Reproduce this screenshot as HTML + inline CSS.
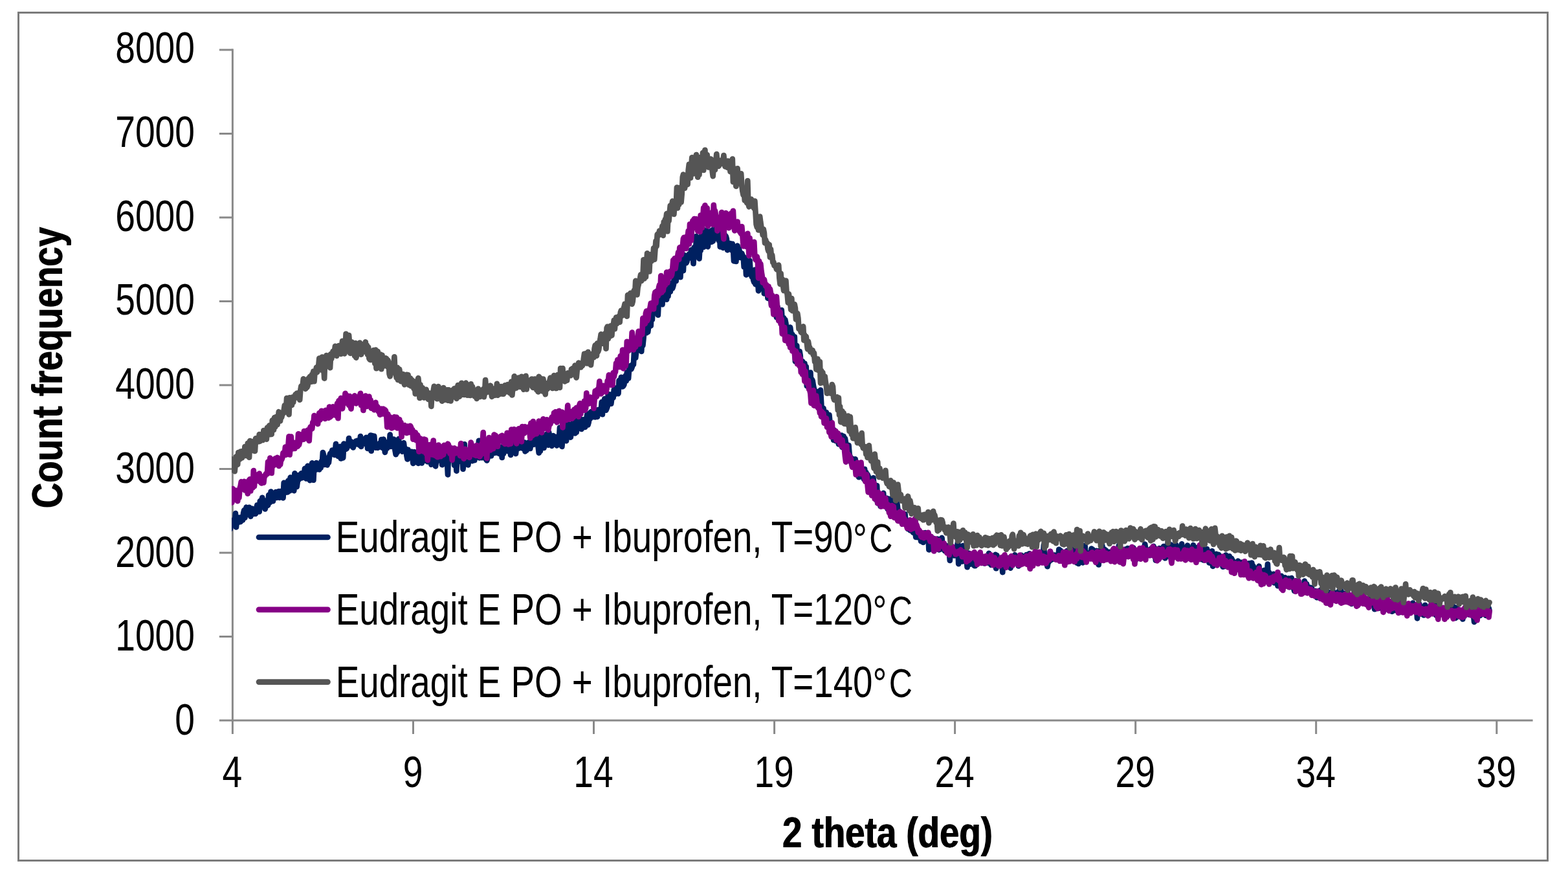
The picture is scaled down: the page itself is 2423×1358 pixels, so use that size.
<!DOCTYPE html>
<html lang="en"><head><meta charset="utf-8"><title>XRD: Eudragit E PO + Ibuprofen</title>
<style>html,body{margin:0;padding:0;background:#fff}body{width:2423px;height:1358px;overflow:hidden}svg{display:block}
text{font-family:"Liberation Sans",sans-serif;fill:#000}
.t{font-size:69.00px}.b{font-size:69.00px;font-weight:bold}
</style></head><body>
<svg width="2423" height="1358" viewBox="0 0 2423 1358" role="img" aria-label="XRD patterns of Eudragit E PO + Ibuprofen at 90, 120 and 140 °C">
<rect x="0" y="0" width="2423" height="1358" fill="#fff"/>
<rect x="28.5" y="19.5" width="2363" height="1310" fill="none" stroke="#7b7b7b" stroke-width="3"/>
<g stroke="#898989" stroke-width="3" fill="none">
<line x1="359.4" y1="75.5" x2="359.4" y2="1134.0"/>
<line x1="338.9" y1="1113.0" x2="2368.6" y2="1113.0"/>
<line x1="338.9" y1="983.5" x2="359.4" y2="983.5"/>
<line x1="338.9" y1="854.0" x2="359.4" y2="854.0"/>
<line x1="338.9" y1="724.5" x2="359.4" y2="724.5"/>
<line x1="338.9" y1="595.0" x2="359.4" y2="595.0"/>
<line x1="338.9" y1="465.5" x2="359.4" y2="465.5"/>
<line x1="338.9" y1="336.0" x2="359.4" y2="336.0"/>
<line x1="338.9" y1="206.5" x2="359.4" y2="206.5"/>
<line x1="338.9" y1="77.0" x2="359.4" y2="77.0"/>
<line x1="638.5" y1="1113.0" x2="638.5" y2="1134.0"/>
<line x1="917.5" y1="1113.0" x2="917.5" y2="1134.0"/>
<line x1="1196.6" y1="1113.0" x2="1196.6" y2="1134.0"/>
<line x1="1475.6" y1="1113.0" x2="1475.6" y2="1134.0"/>
<line x1="1754.7" y1="1113.0" x2="1754.7" y2="1134.0"/>
<line x1="2033.7" y1="1113.0" x2="2033.7" y2="1134.0"/>
<line x1="2312.8" y1="1113.0" x2="2312.8" y2="1134.0"/>
</g>
<defs><clipPath id="plot"><rect x="357.9" y="60" width="2040" height="1060"/></clipPath></defs>
<g clip-path="url(#plot)" fill="none" stroke-width="8.70" stroke-linejoin="round" stroke-linecap="round">
<path stroke="#002060" d="M353.8 810.3 L354.9 818.2 L356.1 816.7 L357.2 805.2 L358.3 805.9 L359.4 803.9 L360.5 810.3 L361.6 805.8 L362.7 810.3 L363.9 793.2 L365.0 814.4 L366.1 803.2 L367.2 807.6 L368.3 801.8 L369.4 799.7 L370.6 804.5 L371.7 806.2 L372.8 799.0 L373.9 798.7 L375.0 803.5 L376.1 792.9 L377.3 788.2 L378.4 799.8 L379.5 792.3 L380.6 783.7 L381.7 790.1 L382.8 791.7 L384.0 786.4 L385.1 783.8 L386.2 793.0 L387.3 797.8 L388.4 789.8 L389.5 785.8 L390.7 792.4 L391.8 793.9 L392.9 786.5 L394.0 791.3 L395.1 793.8 L396.2 784.9 L397.4 780.3 L398.5 787.1 L399.6 785.7 L400.7 790.5 L401.8 774.2 L402.9 777.5 L404.0 775.6 L405.2 768.9 L406.3 780.4 L407.4 782.3 L408.5 773.2 L409.6 786.4 L410.7 781.9 L411.9 779.9 L413.0 777.7 L414.1 780.6 L415.2 764.8 L416.3 776.8 L417.4 776.0 L418.6 759.6 L419.7 772.8 L420.8 768.1 L421.9 774.2 L423.0 765.3 L424.1 767.3 L425.3 768.9 L426.4 760.0 L427.5 769.0 L428.6 763.5 L429.7 766.6 L430.8 759.0 L432.0 768.9 L433.1 764.8 L434.2 758.8 L435.3 763.3 L436.4 766.6 L437.5 769.3 L438.7 745.9 L439.8 761.5 L440.9 757.8 L442.0 753.2 L443.1 746.1 L444.2 760.5 L445.3 742.7 L446.5 754.1 L447.6 758.2 L448.7 737.7 L449.8 745.7 L450.9 738.0 L452.0 747.7 L453.2 755.4 L454.3 758.1 L455.4 731.4 L456.5 738.8 L457.6 746.7 L458.7 751.9 L459.9 743.2 L461.0 734.4 L462.1 740.8 L463.2 737.9 L464.3 735.8 L465.4 731.4 L466.6 738.3 L467.7 737.1 L468.8 733.6 L469.9 731.9 L471.0 723.9 L472.1 728.6 L473.3 739.5 L474.4 729.2 L475.5 719.9 L476.6 738.2 L477.7 732.0 L478.8 742.1 L479.9 727.3 L481.1 722.9 L482.2 715.4 L483.3 733.8 L484.4 741.7 L485.5 717.5 L486.6 717.9 L487.8 725.8 L488.9 715.1 L490.0 718.3 L491.1 717.0 L492.2 720.0 L493.3 725.5 L494.5 717.2 L495.6 722.7 L496.7 712.6 L497.8 717.0 L498.9 699.0 L500.0 703.0 L501.2 717.9 L502.3 707.4 L503.4 714.8 L504.5 713.8 L505.6 718.4 L506.7 714.0 L507.9 714.7 L509.0 705.9 L510.1 701.0 L511.2 699.9 L512.3 700.8 L513.4 695.5 L514.6 698.8 L515.7 701.2 L516.8 702.8 L517.9 697.9 L519.0 685.9 L520.1 698.2 L521.2 699.5 L522.4 704.8 L523.5 700.5 L524.6 691.1 L525.7 689.8 L526.8 708.5 L527.9 698.9 L529.1 705.8 L530.2 707.3 L531.3 685.7 L532.4 693.6 L533.5 693.6 L534.6 693.7 L535.8 693.0 L536.9 690.1 L538.0 689.4 L539.1 677.0 L540.2 686.1 L541.3 681.5 L542.5 687.3 L543.6 682.7 L544.7 690.2 L545.8 691.3 L546.9 687.4 L548.0 687.2 L549.2 685.3 L550.3 681.3 L551.4 683.1 L552.5 680.6 L553.6 686.7 L554.7 683.9 L555.9 687.9 L557.0 674.1 L558.1 689.9 L559.2 678.0 L560.3 678.2 L561.4 682.0 L562.5 679.4 L563.7 685.5 L564.8 679.3 L565.9 675.8 L567.0 677.4 L568.1 692.9 L569.2 683.9 L570.4 675.3 L571.5 683.8 L572.6 672.7 L573.7 696.7 L574.8 673.1 L575.9 687.5 L577.1 688.1 L578.2 673.9 L579.3 686.6 L580.4 691.7 L581.5 688.0 L582.6 686.7 L583.8 691.8 L584.9 686.3 L586.0 687.7 L587.1 684.5 L588.2 690.1 L589.3 679.1 L590.5 691.6 L591.6 682.6 L592.7 678.6 L593.8 689.2 L594.9 698.8 L596.0 693.8 L597.2 683.5 L598.3 692.3 L599.4 684.3 L600.5 686.9 L601.6 688.6 L602.7 671.7 L603.8 689.8 L605.0 681.3 L606.1 683.9 L607.2 678.6 L608.3 678.6 L609.4 682.9 L610.5 695.8 L611.7 702.1 L612.8 690.4 L613.9 698.7 L615.0 689.4 L616.1 678.0 L617.2 693.0 L618.4 695.5 L619.5 689.8 L620.6 695.4 L621.7 697.7 L622.8 688.0 L623.9 684.2 L625.1 693.6 L626.2 694.1 L627.3 693.6 L628.4 703.7 L629.5 709.4 L630.6 694.8 L631.8 703.2 L632.9 705.5 L634.0 704.4 L635.1 707.3 L636.2 697.8 L637.3 706.3 L638.4 715.9 L639.6 707.8 L640.7 698.2 L641.8 707.4 L642.9 712.5 L644.0 706.6 L645.1 700.5 L646.3 715.8 L647.4 696.6 L648.5 709.3 L649.6 706.0 L650.7 698.1 L651.8 715.4 L653.0 709.6 L654.1 699.3 L655.2 711.9 L656.3 705.0 L657.4 694.9 L658.5 703.6 L659.7 710.5 L660.8 713.3 L661.9 710.2 L663.0 709.5 L664.1 712.5 L665.2 707.9 L666.4 717.7 L667.5 710.5 L668.6 711.6 L669.7 713.4 L670.8 702.2 L671.9 704.6 L673.1 720.3 L674.2 711.9 L675.3 707.5 L676.4 711.8 L677.5 705.9 L678.6 711.2 L679.7 704.5 L680.9 711.0 L682.0 697.9 L683.1 718.1 L684.2 705.1 L685.3 697.5 L686.4 706.9 L687.6 705.7 L688.7 709.3 L689.8 700.1 L690.9 710.8 L692.0 733.3 L693.1 698.8 L694.3 710.1 L695.4 705.5 L696.5 708.9 L697.6 694.8 L698.7 699.4 L699.8 710.6 L701.0 707.1 L702.1 718.8 L703.2 702.3 L704.3 708.4 L705.4 727.6 L706.5 701.7 L707.7 700.6 L708.8 706.7 L709.9 706.5 L711.0 712.7 L712.1 707.5 L713.2 701.2 L714.4 707.8 L715.5 724.7 L716.6 715.0 L717.7 686.3 L718.8 704.6 L719.9 699.3 L721.0 709.6 L722.2 703.7 L723.3 718.3 L724.4 711.0 L725.5 710.4 L726.6 705.2 L727.7 703.3 L728.9 705.7 L730.0 712.1 L731.1 706.5 L732.2 699.9 L733.3 711.1 L734.4 703.2 L735.6 701.0 L736.7 695.7 L737.8 697.1 L738.9 696.3 L740.0 680.9 L741.1 707.5 L742.3 704.1 L743.4 698.4 L744.5 707.1 L745.6 702.6 L746.7 701.9 L747.8 681.6 L749.0 697.3 L750.1 702.5 L751.2 710.0 L752.3 711.5 L753.4 708.4 L754.5 689.9 L755.7 682.4 L756.8 701.8 L757.9 697.8 L759.0 704.3 L760.1 696.4 L761.2 698.7 L762.3 686.4 L763.5 700.0 L764.6 693.5 L765.7 698.9 L766.8 699.5 L767.9 695.2 L769.0 698.1 L770.2 695.6 L771.3 700.9 L772.4 698.8 L773.5 691.2 L774.6 690.7 L775.7 707.0 L776.9 693.7 L778.0 701.2 L779.1 696.7 L780.2 689.7 L781.3 688.1 L782.4 694.0 L783.6 694.7 L784.7 697.0 L785.8 683.4 L786.9 687.9 L788.0 691.2 L789.1 702.9 L790.3 674.5 L791.4 694.1 L792.5 686.9 L793.6 693.6 L794.7 686.7 L795.8 692.6 L797.0 700.9 L798.1 692.0 L799.2 692.3 L800.3 691.7 L801.4 683.4 L802.5 692.4 L803.6 686.9 L804.8 682.4 L805.9 687.7 L807.0 686.2 L808.1 693.0 L809.2 687.2 L810.3 683.5 L811.5 697.5 L812.6 694.1 L813.7 695.9 L814.8 691.1 L815.9 685.8 L817.0 683.4 L818.2 684.3 L819.3 692.9 L820.4 686.8 L821.5 675.3 L822.6 685.4 L823.7 675.4 L824.9 686.6 L826.0 676.6 L827.1 676.0 L828.2 685.8 L829.3 684.2 L830.4 672.7 L831.6 689.7 L832.7 699.6 L833.8 673.4 L834.9 696.8 L836.0 678.6 L837.1 679.8 L838.2 681.8 L839.4 672.5 L840.5 691.9 L841.6 685.9 L842.7 676.7 L843.8 679.8 L844.9 670.6 L846.1 678.7 L847.2 687.6 L848.3 668.3 L849.4 677.1 L850.5 680.9 L851.6 687.1 L852.8 688.9 L853.9 675.5 L855.0 673.1 L856.1 681.2 L857.2 674.9 L858.3 674.9 L859.5 684.4 L860.6 688.4 L861.7 677.6 L862.8 673.9 L863.9 678.9 L865.0 660.6 L866.2 673.6 L867.3 665.6 L868.4 689.9 L869.5 677.3 L870.6 672.6 L871.7 669.6 L872.9 652.3 L874.0 675.1 L875.1 681.1 L876.2 663.5 L877.3 673.1 L878.4 672.8 L879.5 655.7 L880.7 673.1 L881.8 675.6 L882.9 666.8 L884.0 664.0 L885.1 669.6 L886.2 652.0 L887.4 663.2 L888.5 669.5 L889.6 652.1 L890.7 667.7 L891.8 656.7 L892.9 643.8 L894.1 657.5 L895.2 650.4 L896.3 659.1 L897.4 647.4 L898.5 662.9 L899.6 649.0 L900.8 656.2 L901.9 648.4 L903.0 649.6 L904.1 659.9 L905.2 651.9 L906.3 646.6 L907.5 639.4 L908.6 656.3 L909.7 652.3 L910.8 643.6 L911.9 646.9 L913.0 636.7 L914.2 635.9 L915.3 636.4 L916.4 644.2 L917.5 642.9 L918.6 634.3 L919.7 644.4 L920.8 643.9 L922.0 638.4 L923.1 643.9 L924.2 633.2 L925.3 633.5 L926.4 636.9 L927.5 632.2 L928.7 637.4 L929.8 621.2 L930.9 640.2 L932.0 622.7 L933.1 626.2 L934.2 616.1 L935.4 629.7 L936.5 633.7 L937.6 631.0 L938.7 628.0 L939.8 608.8 L940.9 613.4 L942.1 614.5 L943.2 609.6 L944.3 623.7 L945.4 615.2 L946.5 612.2 L947.6 614.6 L948.8 602.2 L949.9 601.0 L951.0 599.6 L952.1 608.5 L953.2 605.7 L954.3 605.9 L955.5 608.1 L956.6 587.9 L957.7 592.2 L958.8 595.9 L959.9 582.8 L961.0 587.2 L962.1 597.3 L963.3 596.2 L964.4 594.2 L965.5 584.4 L966.6 580.5 L967.7 588.5 L968.8 575.3 L970.0 578.9 L971.1 584.5 L972.2 569.3 L973.3 565.3 L974.4 567.8 L975.5 570.3 L976.7 567.2 L977.8 562.4 L978.9 563.2 L980.0 543.9 L981.1 547.2 L982.2 552.7 L983.4 541.6 L984.5 535.7 L985.6 534.1 L986.7 533.6 L987.8 536.6 L988.9 527.1 L990.1 534.2 L991.2 542.9 L992.3 525.1 L993.4 533.5 L994.5 522.5 L995.6 508.2 L996.8 512.0 L997.9 503.1 L999.0 514.2 L1000.1 495.6 L1001.2 512.7 L1002.3 503.8 L1003.4 479.8 L1004.6 499.8 L1005.7 503.4 L1006.8 481.7 L1007.9 493.6 L1009.0 468.4 L1010.1 482.8 L1011.3 464.8 L1012.4 480.1 L1013.5 459.3 L1014.6 450.2 L1015.7 473.1 L1016.8 486.7 L1018.0 460.9 L1019.1 470.8 L1020.2 463.0 L1021.3 457.6 L1022.4 463.5 L1023.5 470.3 L1024.7 444.6 L1025.8 457.8 L1026.9 454.3 L1028.0 437.9 L1029.1 461.5 L1030.2 462.6 L1031.4 436.7 L1032.5 457.5 L1033.6 441.8 L1034.7 438.3 L1035.8 450.6 L1036.9 438.2 L1038.0 437.3 L1039.2 445.6 L1040.3 442.0 L1041.4 437.0 L1042.5 416.0 L1043.6 412.8 L1044.7 433.9 L1045.9 414.9 L1047.0 422.3 L1048.1 410.2 L1049.2 416.1 L1050.3 405.1 L1051.4 428.2 L1052.6 404.0 L1053.7 410.0 L1054.8 407.8 L1055.9 418.1 L1057.0 394.2 L1058.1 404.4 L1059.3 401.4 L1060.4 406.2 L1061.5 404.2 L1062.6 394.7 L1063.7 399.3 L1064.8 392.6 L1066.0 398.4 L1067.1 392.1 L1068.2 386.0 L1069.3 390.1 L1070.4 392.2 L1071.5 407.2 L1072.7 382.3 L1073.8 387.9 L1074.9 396.7 L1076.0 365.0 L1077.1 366.7 L1078.2 370.4 L1079.3 378.6 L1080.5 399.6 L1081.6 380.9 L1082.7 386.9 L1083.8 373.6 L1084.9 353.3 L1086.0 353.7 L1087.2 381.7 L1088.3 373.6 L1089.4 360.0 L1090.5 380.2 L1091.6 356.4 L1092.7 378.9 L1093.9 381.1 L1095.0 361.3 L1096.1 357.8 L1097.2 374.2 L1098.3 357.0 L1099.4 373.6 L1100.6 355.4 L1101.7 372.6 L1102.8 366.2 L1103.9 361.5 L1105.0 357.4 L1106.1 367.2 L1107.3 348.8 L1108.4 363.0 L1109.5 362.1 L1110.6 371.6 L1111.7 355.1 L1112.8 381.3 L1114.0 364.1 L1115.1 357.4 L1116.2 379.8 L1117.3 382.8 L1118.4 367.3 L1119.5 361.9 L1120.6 370.5 L1121.8 365.1 L1122.9 369.2 L1124.0 386.3 L1125.1 377.1 L1126.2 375.9 L1127.3 378.6 L1128.5 376.2 L1129.6 385.0 L1130.7 386.5 L1131.8 376.9 L1132.9 382.2 L1134.0 403.3 L1135.2 387.4 L1136.3 383.5 L1137.4 404.0 L1138.5 387.9 L1139.6 379.7 L1140.7 396.4 L1141.9 384.3 L1143.0 389.2 L1144.1 397.8 L1145.2 395.4 L1146.3 391.4 L1147.4 394.8 L1148.6 396.0 L1149.7 412.5 L1150.8 398.0 L1151.9 400.8 L1153.0 424.6 L1154.1 404.1 L1155.3 423.0 L1156.4 423.1 L1157.5 412.1 L1158.6 402.9 L1159.7 420.4 L1160.8 423.8 L1161.9 427.8 L1163.1 421.8 L1164.2 432.9 L1165.3 436.0 L1166.4 416.9 L1167.5 439.4 L1168.6 430.3 L1169.8 425.7 L1170.9 429.3 L1172.0 449.3 L1173.1 443.4 L1174.2 421.6 L1175.3 438.9 L1176.5 438.7 L1177.6 440.0 L1178.7 438.7 L1179.8 432.5 L1180.9 453.5 L1182.0 440.1 L1183.2 446.5 L1184.3 446.2 L1185.4 446.9 L1186.5 460.8 L1187.6 459.6 L1188.7 452.6 L1189.9 452.1 L1191.0 457.8 L1192.1 471.5 L1193.2 466.4 L1194.3 469.1 L1195.4 466.4 L1196.5 468.9 L1197.7 474.7 L1198.8 459.8 L1199.9 490.2 L1201.0 472.5 L1202.1 476.3 L1203.2 494.0 L1204.4 487.0 L1205.5 487.7 L1206.6 484.8 L1207.7 479.0 L1208.8 495.5 L1209.9 506.0 L1211.1 491.3 L1212.2 511.9 L1213.3 494.1 L1214.4 499.7 L1215.5 512.2 L1216.6 510.5 L1217.8 518.6 L1218.9 509.5 L1220.0 509.7 L1221.1 505.6 L1222.2 513.5 L1223.3 517.1 L1224.5 516.9 L1225.6 533.3 L1226.7 528.2 L1227.8 520.3 L1228.9 558.4 L1230.0 534.7 L1231.2 534.0 L1232.3 556.4 L1233.4 558.4 L1234.5 542.8 L1235.6 542.8 L1236.7 549.2 L1237.8 568.4 L1239.0 559.7 L1240.1 558.4 L1241.2 567.0 L1242.3 579.1 L1243.4 561.5 L1244.5 571.8 L1245.7 566.5 L1246.8 596.4 L1247.9 596.1 L1249.0 591.8 L1250.1 585.8 L1251.2 594.3 L1252.4 575.5 L1253.5 596.0 L1254.6 586.0 L1255.7 588.4 L1256.8 595.5 L1257.9 600.5 L1259.1 609.8 L1260.2 613.0 L1261.3 611.9 L1262.4 605.1 L1263.5 619.6 L1264.6 615.8 L1265.8 627.8 L1266.9 614.3 L1268.0 602.7 L1269.1 622.1 L1270.2 643.9 L1271.3 633.6 L1272.5 630.8 L1273.6 641.0 L1274.7 640.3 L1275.8 642.2 L1276.9 637.1 L1278.0 643.5 L1279.1 646.6 L1280.3 642.4 L1281.4 641.0 L1282.5 652.3 L1283.6 660.4 L1284.7 660.0 L1285.8 660.8 L1287.0 662.9 L1288.1 679.9 L1289.2 664.9 L1290.3 672.5 L1291.4 681.0 L1292.5 669.0 L1293.7 672.3 L1294.8 679.8 L1295.9 686.2 L1297.0 678.1 L1298.1 680.2 L1299.2 680.0 L1300.4 672.5 L1301.5 690.9 L1302.6 682.8 L1303.7 674.0 L1304.8 687.0 L1305.9 677.5 L1307.1 684.4 L1308.2 693.4 L1309.3 688.4 L1310.4 704.3 L1311.5 688.0 L1312.6 702.0 L1313.8 705.8 L1314.9 713.9 L1316.0 711.8 L1317.1 708.7 L1318.2 709.4 L1319.3 710.1 L1320.4 720.2 L1321.6 709.4 L1322.7 719.3 L1323.8 716.8 L1324.9 720.8 L1326.0 719.0 L1327.1 737.2 L1328.3 719.6 L1329.4 727.5 L1330.5 729.3 L1331.6 733.1 L1332.7 733.6 L1333.8 735.0 L1335.0 740.4 L1336.1 724.9 L1337.2 736.8 L1338.3 729.8 L1339.4 741.2 L1340.5 733.1 L1341.7 736.0 L1342.8 743.6 L1343.9 754.9 L1345.0 750.8 L1346.1 750.3 L1347.2 759.2 L1348.4 744.7 L1349.5 738.4 L1350.6 751.0 L1351.7 753.4 L1352.8 764.9 L1353.9 772.3 L1355.1 750.4 L1356.2 777.2 L1357.3 772.5 L1358.4 768.9 L1359.5 767.1 L1360.6 782.1 L1361.7 767.8 L1362.9 765.4 L1364.0 770.7 L1365.1 761.9 L1366.2 775.3 L1367.3 772.7 L1368.4 776.7 L1369.6 778.1 L1370.7 769.9 L1371.8 786.6 L1372.9 772.4 L1374.0 786.0 L1375.1 770.8 L1376.3 784.7 L1377.4 778.0 L1378.5 784.7 L1379.6 781.2 L1380.7 772.3 L1381.8 780.2 L1383.0 788.9 L1384.1 793.6 L1385.2 781.0 L1386.3 777.8 L1387.4 786.9 L1388.5 792.2 L1389.7 790.6 L1390.8 790.5 L1391.9 802.2 L1393.0 804.1 L1394.1 803.7 L1395.2 794.0 L1396.3 801.7 L1397.5 801.1 L1398.6 794.4 L1399.7 810.3 L1400.8 806.4 L1401.9 803.9 L1403.0 817.2 L1404.2 814.2 L1405.3 816.0 L1406.4 819.3 L1407.5 817.5 L1408.6 806.1 L1409.7 812.8 L1410.9 822.7 L1412.0 812.7 L1413.1 818.9 L1414.2 822.3 L1415.3 829.9 L1416.4 830.0 L1417.6 828.5 L1418.7 822.8 L1419.8 830.6 L1420.9 829.1 L1422.0 825.8 L1423.1 836.1 L1424.3 831.6 L1425.4 824.7 L1426.5 838.0 L1427.6 829.4 L1428.7 835.4 L1429.8 823.1 L1431.0 833.2 L1432.1 828.2 L1433.2 828.8 L1434.3 823.7 L1435.4 849.3 L1436.5 835.9 L1437.6 839.0 L1438.8 845.0 L1439.9 838.1 L1441.0 842.7 L1442.1 831.9 L1443.2 842.0 L1444.3 838.9 L1445.5 845.1 L1446.6 843.8 L1447.7 834.8 L1448.8 832.6 L1449.9 838.2 L1451.0 849.5 L1452.2 848.1 L1453.3 848.5 L1454.4 834.4 L1455.5 830.9 L1456.6 843.9 L1457.7 846.1 L1458.9 845.0 L1460.0 851.3 L1461.1 848.6 L1462.2 842.9 L1463.3 845.2 L1464.4 851.9 L1465.6 851.9 L1466.7 851.4 L1467.8 866.0 L1468.9 851.2 L1470.0 853.9 L1471.1 847.7 L1472.3 851.9 L1473.4 857.6 L1474.5 858.3 L1475.6 854.4 L1476.7 858.1 L1477.8 856.5 L1478.9 845.3 L1480.1 837.4 L1481.2 871.2 L1482.3 862.8 L1483.4 857.9 L1484.5 848.3 L1485.6 851.4 L1486.8 867.5 L1487.9 843.2 L1489.0 858.2 L1490.1 865.7 L1491.2 861.8 L1492.3 865.7 L1493.5 860.8 L1494.6 876.2 L1495.7 856.2 L1496.8 854.5 L1497.9 864.6 L1499.0 871.7 L1500.2 863.2 L1501.3 870.0 L1502.4 860.9 L1503.5 857.3 L1504.6 872.9 L1505.7 874.1 L1506.9 874.1 L1508.0 862.7 L1509.1 858.6 L1510.2 858.8 L1511.3 864.5 L1512.4 869.4 L1513.6 869.2 L1514.7 857.8 L1515.8 867.6 L1516.9 866.7 L1518.0 867.2 L1519.1 866.6 L1520.2 865.7 L1521.4 870.4 L1522.5 867.8 L1523.6 868.4 L1524.7 863.1 L1525.8 869.5 L1526.9 866.5 L1528.1 854.8 L1529.2 870.2 L1530.3 865.8 L1531.4 872.8 L1532.5 866.5 L1533.6 866.9 L1534.8 868.7 L1535.9 867.4 L1537.0 864.8 L1538.1 856.9 L1539.2 878.2 L1540.3 858.1 L1541.5 865.3 L1542.6 871.2 L1543.7 869.5 L1544.8 870.6 L1545.9 871.7 L1547.0 874.6 L1548.2 868.8 L1549.3 884.1 L1550.4 861.0 L1551.5 868.2 L1552.6 864.7 L1553.7 863.5 L1554.9 868.3 L1556.0 875.1 L1557.1 862.3 L1558.2 862.2 L1559.3 870.5 L1560.4 869.3 L1561.5 877.6 L1562.7 872.0 L1563.8 867.1 L1564.9 863.7 L1566.0 866.8 L1567.1 864.3 L1568.2 857.2 L1569.4 865.2 L1570.5 863.9 L1571.6 863.4 L1572.7 862.1 L1573.8 874.5 L1574.9 868.5 L1576.1 869.7 L1577.2 860.4 L1578.3 857.8 L1579.4 862.0 L1580.5 865.0 L1581.6 861.4 L1582.8 862.1 L1583.9 868.8 L1585.0 864.7 L1586.1 857.0 L1587.2 860.1 L1588.3 858.6 L1589.5 863.4 L1590.6 855.3 L1591.7 861.0 L1592.8 866.1 L1593.9 862.0 L1595.0 856.3 L1596.1 857.9 L1597.3 862.2 L1598.4 864.3 L1599.5 866.3 L1600.6 860.3 L1601.7 853.3 L1602.8 869.5 L1604.0 862.7 L1605.1 863.3 L1606.2 862.6 L1607.3 854.6 L1608.4 858.8 L1609.5 862.1 L1610.7 866.7 L1611.8 860.9 L1612.9 841.9 L1614.0 859.0 L1615.1 862.5 L1616.2 868.1 L1617.4 864.6 L1618.5 875.2 L1619.6 868.8 L1620.7 868.3 L1621.8 865.9 L1622.9 852.1 L1624.1 865.3 L1625.2 863.8 L1626.3 857.1 L1627.4 863.7 L1628.5 862.7 L1629.6 857.5 L1630.8 859.5 L1631.9 858.7 L1633.0 861.6 L1634.1 857.7 L1635.2 863.5 L1636.3 848.8 L1637.4 858.6 L1638.6 850.2 L1639.7 857.3 L1640.8 863.3 L1641.9 860.3 L1643.0 859.6 L1644.1 860.6 L1645.3 869.5 L1646.4 853.6 L1647.5 865.4 L1648.6 851.2 L1649.7 857.4 L1650.8 861.1 L1652.0 855.0 L1653.1 861.3 L1654.2 864.4 L1655.3 852.9 L1656.4 859.5 L1657.5 857.7 L1658.7 848.3 L1659.8 858.7 L1660.9 855.0 L1662.0 867.7 L1663.1 854.5 L1664.2 869.7 L1665.4 856.4 L1666.5 871.0 L1667.6 862.6 L1668.7 862.0 L1669.8 864.0 L1670.9 864.5 L1672.1 867.4 L1673.2 869.3 L1674.3 856.8 L1675.4 851.4 L1676.5 842.8 L1677.6 856.3 L1678.7 863.1 L1679.9 860.7 L1681.0 859.1 L1682.1 856.3 L1683.2 854.5 L1684.3 856.5 L1685.4 860.5 L1686.6 847.6 L1687.7 862.4 L1688.8 849.3 L1689.9 857.0 L1691.0 854.1 L1692.1 855.7 L1693.3 851.6 L1694.4 850.9 L1695.5 856.4 L1696.6 851.3 L1697.7 872.4 L1698.8 855.2 L1700.0 853.8 L1701.1 854.4 L1702.2 851.2 L1703.3 842.9 L1704.4 856.0 L1705.5 859.4 L1706.7 848.5 L1707.8 857.5 L1708.9 850.2 L1710.0 857.1 L1711.1 859.4 L1712.2 860.1 L1713.4 859.8 L1714.5 852.9 L1715.6 862.3 L1716.7 854.3 L1717.8 859.0 L1718.9 861.0 L1720.0 854.9 L1721.2 849.0 L1722.3 860.2 L1723.4 849.8 L1724.5 851.0 L1725.6 849.7 L1726.7 861.2 L1727.9 855.1 L1729.0 842.5 L1730.1 860.3 L1731.2 868.2 L1732.3 866.5 L1733.4 852.2 L1734.6 856.0 L1735.7 858.5 L1736.8 860.7 L1737.9 855.4 L1739.0 848.6 L1740.1 859.6 L1741.3 858.7 L1742.4 847.0 L1743.5 852.6 L1744.6 856.4 L1745.7 854.7 L1746.8 857.8 L1748.0 859.3 L1749.1 857.7 L1750.2 853.7 L1751.3 846.3 L1752.4 858.0 L1753.5 862.6 L1754.6 866.0 L1755.8 853.9 L1756.9 853.8 L1758.0 862.7 L1759.1 862.6 L1760.2 855.9 L1761.3 858.1 L1762.5 849.2 L1763.6 857.2 L1764.7 848.7 L1765.8 852.7 L1766.9 852.8 L1768.0 850.7 L1769.2 840.7 L1770.3 848.4 L1771.4 855.3 L1772.5 852.9 L1773.6 850.8 L1774.7 855.7 L1775.9 857.3 L1777.0 858.2 L1778.1 848.2 L1779.2 853.1 L1780.3 850.9 L1781.4 847.6 L1782.6 843.9 L1783.7 852.3 L1784.8 847.6 L1785.9 865.7 L1787.0 852.2 L1788.1 851.4 L1789.3 850.3 L1790.4 864.0 L1791.5 847.0 L1792.6 851.7 L1793.7 848.1 L1794.8 851.9 L1795.9 852.4 L1797.1 859.3 L1798.2 844.1 L1799.3 852.5 L1800.4 862.3 L1801.5 849.6 L1802.6 851.6 L1803.8 847.3 L1804.9 836.9 L1806.0 852.0 L1807.1 859.7 L1808.2 849.8 L1809.3 841.5 L1810.5 854.2 L1811.6 853.1 L1812.7 858.6 L1813.8 858.1 L1814.9 851.0 L1816.0 855.1 L1817.2 841.8 L1818.3 859.4 L1819.4 853.8 L1820.5 859.2 L1821.6 859.1 L1822.7 851.0 L1823.9 851.8 L1825.0 847.5 L1826.1 840.4 L1827.2 852.0 L1828.3 853.8 L1829.4 846.4 L1830.6 857.2 L1831.7 853.6 L1832.8 855.8 L1833.9 848.5 L1835.0 842.7 L1836.1 858.0 L1837.2 857.1 L1838.4 852.9 L1839.5 851.1 L1840.6 852.1 L1841.7 853.1 L1842.8 851.1 L1843.9 842.2 L1845.1 859.1 L1846.2 845.7 L1847.3 852.8 L1848.4 853.2 L1849.5 856.8 L1850.6 845.8 L1851.8 862.9 L1852.9 859.9 L1854.0 860.8 L1855.1 864.0 L1856.2 852.0 L1857.3 838.3 L1858.5 859.3 L1859.6 865.4 L1860.7 864.8 L1861.8 855.0 L1862.9 857.9 L1864.0 860.5 L1865.2 848.3 L1866.3 855.4 L1867.4 855.9 L1868.5 869.5 L1869.6 856.5 L1870.7 870.0 L1871.9 861.1 L1873.0 851.4 L1874.1 874.8 L1875.2 856.2 L1876.3 865.9 L1877.4 872.7 L1878.5 859.7 L1879.7 855.9 L1880.8 869.7 L1881.9 864.2 L1883.0 856.9 L1884.1 858.0 L1885.2 862.4 L1886.4 870.7 L1887.5 863.6 L1888.6 869.5 L1889.7 875.7 L1890.8 873.7 L1891.9 875.0 L1893.1 874.1 L1894.2 857.6 L1895.3 874.6 L1896.4 869.7 L1897.5 867.3 L1898.6 862.0 L1899.8 859.3 L1900.9 862.5 L1902.0 869.2 L1903.1 862.8 L1904.2 865.2 L1905.3 866.7 L1906.5 874.6 L1907.6 869.3 L1908.7 870.6 L1909.8 879.5 L1910.9 870.3 L1912.0 876.0 L1913.2 866.7 L1914.3 875.2 L1915.4 874.4 L1916.5 875.1 L1917.6 871.7 L1918.7 868.8 L1919.8 873.5 L1921.0 872.9 L1922.1 882.0 L1923.2 881.7 L1924.3 869.8 L1925.4 880.9 L1926.5 874.8 L1927.7 880.7 L1928.8 875.6 L1929.9 870.3 L1931.0 885.1 L1932.1 882.2 L1933.2 872.9 L1934.4 869.5 L1935.5 877.7 L1936.6 874.3 L1937.7 879.5 L1938.8 885.5 L1939.9 890.8 L1941.1 880.7 L1942.2 891.0 L1943.3 890.2 L1944.4 881.4 L1945.5 874.7 L1946.6 889.6 L1947.8 888.6 L1948.9 899.0 L1950.0 894.1 L1951.1 890.7 L1952.2 896.3 L1953.3 881.1 L1954.4 888.6 L1955.6 886.3 L1956.7 898.2 L1957.8 891.8 L1958.9 871.6 L1960.0 897.2 L1961.1 884.6 L1962.3 894.6 L1963.4 887.9 L1964.5 892.4 L1965.6 895.0 L1966.7 892.9 L1967.8 886.8 L1969.0 900.5 L1970.1 895.2 L1971.2 893.3 L1972.3 897.8 L1973.4 891.1 L1974.5 905.2 L1975.7 896.2 L1976.8 897.4 L1977.9 897.7 L1979.0 891.0 L1980.1 889.9 L1981.2 898.1 L1982.4 899.3 L1983.5 905.3 L1984.6 900.6 L1985.7 892.4 L1986.8 901.8 L1987.9 903.9 L1989.1 905.2 L1990.2 901.9 L1991.3 893.5 L1992.4 907.2 L1993.5 897.0 L1994.6 904.7 L1995.7 893.0 L1996.9 906.4 L1998.0 898.1 L1999.1 908.9 L2000.2 913.1 L2001.3 910.1 L2002.4 897.4 L2003.6 899.0 L2004.7 899.7 L2005.8 908.6 L2006.9 907.1 L2008.0 906.4 L2009.1 907.6 L2010.3 909.4 L2011.4 910.1 L2012.5 916.2 L2013.6 906.9 L2014.7 908.6 L2015.8 897.6 L2017.0 900.8 L2018.1 904.7 L2019.2 902.3 L2020.3 910.4 L2021.4 915.2 L2022.5 907.4 L2023.7 907.5 L2024.8 907.7 L2025.9 911.6 L2027.0 908.2 L2028.1 913.9 L2029.2 913.5 L2030.4 914.1 L2031.5 916.7 L2032.6 913.0 L2033.7 914.0 L2034.8 923.2 L2035.9 913.6 L2037.0 918.5 L2038.2 914.8 L2039.3 912.3 L2040.4 912.6 L2041.5 910.9 L2042.6 915.8 L2043.7 912.7 L2044.9 914.0 L2046.0 923.2 L2047.1 916.1 L2048.2 923.2 L2049.3 918.7 L2050.4 922.2 L2051.6 914.4 L2052.7 918.8 L2053.8 932.5 L2054.9 922.9 L2056.0 924.0 L2057.1 920.0 L2058.3 923.6 L2059.4 912.8 L2060.5 914.7 L2061.6 921.8 L2062.7 924.1 L2063.8 917.6 L2065.0 919.0 L2066.1 918.2 L2067.2 919.3 L2068.3 914.0 L2069.4 913.0 L2070.5 920.4 L2071.7 911.7 L2072.8 916.0 L2073.9 917.9 L2075.0 916.0 L2076.1 923.1 L2077.2 919.7 L2078.3 921.8 L2079.5 917.1 L2080.6 918.7 L2081.7 925.7 L2082.8 925.1 L2083.9 920.9 L2085.0 925.6 L2086.2 924.9 L2087.3 925.0 L2088.4 932.9 L2089.5 922.5 L2090.6 927.1 L2091.7 927.3 L2092.9 924.1 L2094.0 919.3 L2095.1 929.5 L2096.2 927.4 L2097.3 926.5 L2098.4 926.6 L2099.6 926.8 L2100.7 922.1 L2101.8 928.7 L2102.9 917.7 L2104.0 927.4 L2105.1 919.7 L2106.3 926.0 L2107.4 931.9 L2108.5 926.9 L2109.6 925.9 L2110.7 931.4 L2111.8 927.4 L2113.0 926.8 L2114.1 927.1 L2115.2 937.4 L2116.3 933.1 L2117.4 932.3 L2118.5 923.6 L2119.6 933.4 L2120.8 923.4 L2121.9 933.0 L2123.0 924.7 L2124.1 941.2 L2125.2 922.1 L2126.3 937.7 L2127.5 935.7 L2128.6 922.2 L2129.7 930.6 L2130.8 939.7 L2131.9 938.3 L2133.0 923.7 L2134.2 929.9 L2135.3 926.7 L2136.4 927.7 L2137.5 929.9 L2138.6 943.2 L2139.7 934.4 L2140.9 932.7 L2142.0 932.4 L2143.1 937.9 L2144.2 938.2 L2145.3 929.9 L2146.4 942.7 L2147.6 929.5 L2148.7 933.9 L2149.8 937.9 L2150.9 944.7 L2152.0 934.1 L2153.1 937.6 L2154.2 943.2 L2155.4 939.8 L2156.5 942.6 L2157.6 942.3 L2158.7 938.4 L2159.8 940.5 L2160.9 942.2 L2162.1 937.4 L2163.2 946.0 L2164.3 927.5 L2165.4 933.2 L2166.5 945.7 L2167.6 940.5 L2168.8 935.0 L2169.9 940.5 L2171.0 944.3 L2172.1 935.8 L2173.2 942.9 L2174.3 938.3 L2175.5 938.5 L2176.6 938.8 L2177.7 945.1 L2178.8 933.5 L2179.9 937.5 L2181.0 943.0 L2182.2 933.3 L2183.3 931.5 L2184.4 942.7 L2185.5 939.9 L2186.6 939.2 L2187.7 940.7 L2188.9 935.0 L2190.0 955.3 L2191.1 935.1 L2192.2 938.1 L2193.3 933.0 L2194.4 938.4 L2195.5 948.5 L2196.7 940.8 L2197.8 943.9 L2198.9 938.4 L2200.0 950.4 L2201.1 942.0 L2202.2 934.8 L2203.4 945.4 L2204.5 939.6 L2205.6 944.8 L2206.7 942.5 L2207.8 943.2 L2208.9 942.7 L2210.1 937.4 L2211.2 934.5 L2212.3 947.5 L2213.4 941.9 L2214.5 944.2 L2215.6 940.4 L2216.8 932.5 L2217.9 936.5 L2219.0 950.5 L2220.1 939.4 L2221.2 941.6 L2222.3 936.1 L2223.5 941.1 L2224.6 942.1 L2225.7 943.0 L2226.8 943.9 L2227.9 941.1 L2229.0 941.5 L2230.2 944.5 L2231.3 946.4 L2232.4 944.1 L2233.5 953.9 L2234.6 946.1 L2235.7 945.9 L2236.8 941.8 L2238.0 950.6 L2239.1 940.1 L2240.2 937.1 L2241.3 940.5 L2242.4 948.7 L2243.5 939.7 L2244.7 952.3 L2245.8 945.5 L2246.9 937.9 L2248.0 944.5 L2249.1 954.9 L2250.2 941.3 L2251.4 938.9 L2252.5 948.3 L2253.6 952.4 L2254.7 950.9 L2255.8 943.9 L2256.9 946.5 L2258.1 947.2 L2259.2 951.6 L2260.3 956.5 L2261.4 944.9 L2262.5 952.1 L2263.6 943.6 L2264.8 948.3 L2265.9 940.5 L2267.0 941.3 L2268.1 947.3 L2269.2 940.5 L2270.3 949.6 L2271.5 942.2 L2272.6 945.4 L2273.7 944.5 L2274.8 943.2 L2275.9 945.6 L2277.0 950.4 L2278.1 960.8 L2279.3 938.7 L2280.4 946.3 L2281.5 943.8 L2282.6 940.0 L2283.7 946.2 L2284.8 940.1 L2286.0 944.3 L2287.1 951.0 L2288.2 934.2 L2289.3 945.9 L2290.4 946.9 L2291.5 939.6 L2292.7 947.3 L2293.8 946.4 L2294.9 942.7 L2296.0 950.8 L2297.1 937.8 L2298.2 947.8 L2299.4 943.3 L2300.5 939.1 L2301.6 943.6"/>
<path stroke="#860086" d="M353.8 761.1 L354.9 761.5 L356.1 759.9 L357.2 763.4 L358.3 776.3 L359.4 755.1 L360.5 771.1 L361.6 772.4 L362.7 760.7 L363.9 757.5 L365.0 764.5 L366.1 768.6 L367.2 774.1 L368.3 764.9 L369.4 768.8 L370.6 754.3 L371.7 750.7 L372.8 744.2 L373.9 747.2 L375.0 751.8 L376.1 754.8 L377.3 743.9 L378.4 757.5 L379.5 750.6 L380.6 746.2 L381.7 744.6 L382.8 762.7 L384.0 749.5 L385.1 741.5 L386.2 740.4 L387.3 758.5 L388.4 741.4 L389.5 752.6 L390.7 753.5 L391.8 727.2 L392.9 751.4 L394.0 740.0 L395.1 733.2 L396.2 736.1 L397.4 742.8 L398.5 740.7 L399.6 740.3 L400.7 731.6 L401.8 744.4 L402.9 745.1 L404.0 746.5 L405.2 739.9 L406.3 745.1 L407.4 745.6 L408.5 735.1 L409.6 735.4 L410.7 732.4 L411.9 731.2 L413.0 732.4 L414.1 713.6 L415.2 722.1 L416.3 726.7 L417.4 707.6 L418.6 711.1 L419.7 731.0 L420.8 711.6 L421.9 714.6 L423.0 719.3 L424.1 712.2 L425.3 708.4 L426.4 709.6 L427.5 709.1 L428.6 706.9 L429.7 711.0 L430.8 719.9 L432.0 709.9 L433.1 717.7 L434.2 710.4 L435.3 709.9 L436.4 707.0 L437.5 699.7 L438.7 703.6 L439.8 701.7 L440.9 690.6 L442.0 702.7 L443.1 700.4 L444.2 697.9 L445.3 690.2 L446.5 674.4 L447.6 702.5 L448.7 690.6 L449.8 674.5 L450.9 693.7 L452.0 683.0 L453.2 691.9 L454.3 685.2 L455.4 693.0 L456.5 685.6 L457.6 684.9 L458.7 682.9 L459.9 689.6 L461.0 670.4 L462.1 687.1 L463.2 682.5 L464.3 672.5 L465.4 675.4 L466.6 671.1 L467.7 673.6 L468.8 678.8 L469.9 666.0 L471.0 675.1 L472.1 675.4 L473.3 672.0 L474.4 677.6 L475.5 664.5 L476.6 668.9 L477.7 680.8 L478.8 661.8 L479.9 659.4 L481.1 659.3 L482.2 662.5 L483.3 652.5 L484.4 654.2 L485.5 642.0 L486.6 646.1 L487.8 645.3 L488.9 643.2 L490.0 647.5 L491.1 654.9 L492.2 646.0 L493.3 638.1 L494.5 648.7 L495.6 647.2 L496.7 634.8 L497.8 645.3 L498.9 635.4 L500.0 637.8 L501.2 636.2 L502.3 646.9 L503.4 633.9 L504.5 636.8 L505.6 639.7 L506.7 645.2 L507.9 645.6 L509.0 628.5 L510.1 644.1 L511.2 636.7 L512.3 642.6 L513.4 640.8 L514.6 628.3 L515.7 631.8 L516.8 628.6 L517.9 632.8 L519.0 641.7 L520.1 629.0 L521.2 623.0 L522.4 646.2 L523.5 619.1 L524.6 625.9 L525.7 625.1 L526.8 615.1 L527.9 629.9 L529.1 631.3 L530.2 622.1 L531.3 622.6 L532.4 620.4 L533.5 607.9 L534.6 622.5 L535.8 610.9 L536.9 612.6 L538.0 622.4 L539.1 626.0 L540.2 612.2 L541.3 627.1 L542.5 631.6 L543.6 619.4 L544.7 617.4 L545.8 619.4 L546.9 614.8 L548.0 611.4 L549.2 622.7 L550.3 623.3 L551.4 614.2 L552.5 615.1 L553.6 613.7 L554.7 613.3 L555.9 611.6 L557.0 607.8 L558.1 626.2 L559.2 617.1 L560.3 620.7 L561.4 634.0 L562.5 617.3 L563.7 625.6 L564.8 611.6 L565.9 617.5 L567.0 627.8 L568.1 621.1 L569.2 612.9 L570.4 612.6 L571.5 627.0 L572.6 618.1 L573.7 630.6 L574.8 628.1 L575.9 624.2 L577.1 626.6 L578.2 633.3 L579.3 628.5 L580.4 621.9 L581.5 632.0 L582.6 627.6 L583.8 629.2 L584.9 635.9 L586.0 634.9 L587.1 640.7 L588.2 632.7 L589.3 631.5 L590.5 633.3 L591.6 639.4 L592.7 631.7 L593.8 635.8 L594.9 633.2 L596.0 634.6 L597.2 639.9 L598.3 659.7 L599.4 640.2 L600.5 645.8 L601.6 645.5 L602.7 644.4 L603.8 646.7 L605.0 661.4 L606.1 646.2 L607.2 660.4 L608.3 654.3 L609.4 644.1 L610.5 646.4 L611.7 648.5 L612.8 644.7 L613.9 661.5 L615.0 656.9 L616.1 658.4 L617.2 648.0 L618.4 659.4 L619.5 652.9 L620.6 674.8 L621.7 657.6 L622.8 661.0 L623.9 662.7 L625.1 657.1 L626.2 658.5 L627.3 659.3 L628.4 669.0 L629.5 658.7 L630.6 663.6 L631.8 668.0 L632.9 663.7 L634.0 657.9 L635.1 660.2 L636.2 666.7 L637.3 663.9 L638.4 678.6 L639.6 673.0 L640.7 673.9 L641.8 668.2 L642.9 680.1 L644.0 675.1 L645.1 672.1 L646.3 675.5 L647.4 697.7 L648.5 678.1 L649.6 677.4 L650.7 692.6 L651.8 690.8 L653.0 684.7 L654.1 697.3 L655.2 678.6 L656.3 686.4 L657.4 679.2 L658.5 700.8 L659.7 692.5 L660.8 710.8 L661.9 696.8 L663.0 697.5 L664.1 687.0 L665.2 687.2 L666.4 692.4 L667.5 702.4 L668.6 689.4 L669.7 680.5 L670.8 703.0 L671.9 703.7 L673.1 691.3 L674.2 700.8 L675.3 705.7 L676.4 706.2 L677.5 687.5 L678.6 698.8 L679.7 693.1 L680.9 705.1 L682.0 699.2 L683.1 690.3 L684.2 699.3 L685.3 702.7 L686.4 687.9 L687.6 689.2 L688.7 693.8 L689.8 696.3 L690.9 694.5 L692.0 685.7 L693.1 687.4 L694.3 697.8 L695.4 700.9 L696.5 691.8 L697.6 698.9 L698.7 710.7 L699.8 696.1 L701.0 694.4 L702.1 692.4 L703.2 700.4 L704.3 698.6 L705.4 698.6 L706.5 694.2 L707.7 699.5 L708.8 699.3 L709.9 695.3 L711.0 704.1 L712.1 685.2 L713.2 700.8 L714.4 694.8 L715.5 701.4 L716.6 708.6 L717.7 695.6 L718.8 693.8 L719.9 694.8 L721.0 704.4 L722.2 705.4 L723.3 695.7 L724.4 698.9 L725.5 706.8 L726.6 698.0 L727.7 683.6 L728.9 688.2 L730.0 690.4 L731.1 696.4 L732.2 689.5 L733.3 703.0 L734.4 689.8 L735.6 703.9 L736.7 688.1 L737.8 701.9 L738.9 693.6 L740.0 702.0 L741.1 705.5 L742.3 703.8 L743.4 698.5 L744.5 685.7 L745.6 685.0 L746.7 668.0 L747.8 700.3 L749.0 698.6 L750.1 696.5 L751.2 681.0 L752.3 708.0 L753.4 683.5 L754.5 694.0 L755.7 676.1 L756.8 682.8 L757.9 695.4 L759.0 693.6 L760.1 678.3 L761.2 685.0 L762.3 693.1 L763.5 671.7 L764.6 689.8 L765.7 672.9 L766.8 688.0 L767.9 681.3 L769.0 689.7 L770.2 678.6 L771.3 679.3 L772.4 678.8 L773.5 674.1 L774.6 678.5 L775.7 672.8 L776.9 675.5 L778.0 684.0 L779.1 676.4 L780.2 685.9 L781.3 682.9 L782.4 683.3 L783.6 668.8 L784.7 679.5 L785.8 686.4 L786.9 682.2 L788.0 684.0 L789.1 685.7 L790.3 663.5 L791.4 678.0 L792.5 677.4 L793.6 671.6 L794.7 663.2 L795.8 673.2 L797.0 670.5 L798.1 685.3 L799.2 680.2 L800.3 667.4 L801.4 662.3 L802.5 663.3 L803.6 668.6 L804.8 663.3 L805.9 682.3 L807.0 659.0 L808.1 666.5 L809.2 667.8 L810.3 669.3 L811.5 659.2 L812.6 663.8 L813.7 666.3 L814.8 666.9 L815.9 659.9 L817.0 661.5 L818.2 664.9 L819.3 676.7 L820.4 653.8 L821.5 667.1 L822.6 673.1 L823.7 651.2 L824.9 671.4 L826.0 670.7 L827.1 660.6 L828.2 666.8 L829.3 670.2 L830.4 658.0 L831.6 660.4 L832.7 650.6 L833.8 652.9 L834.9 658.1 L836.0 656.6 L837.1 668.5 L838.2 654.8 L839.4 647.3 L840.5 662.1 L841.6 662.0 L842.7 657.8 L843.8 653.5 L844.9 648.3 L846.1 648.9 L847.2 664.3 L848.3 658.5 L849.4 653.2 L850.5 655.0 L851.6 649.1 L852.8 644.4 L853.9 647.3 L855.0 649.9 L856.1 637.8 L857.2 638.8 L858.3 636.3 L859.5 645.1 L860.6 652.4 L861.7 637.7 L862.8 638.6 L863.9 634.8 L865.0 642.6 L866.2 636.8 L867.3 637.7 L868.4 636.5 L869.5 660.6 L870.6 643.0 L871.7 638.4 L872.9 639.4 L874.0 648.7 L875.1 649.0 L876.2 643.3 L877.3 626.4 L878.4 647.6 L879.5 647.7 L880.7 645.1 L881.8 642.3 L882.9 638.9 L884.0 646.6 L885.1 635.0 L886.2 644.3 L887.4 632.5 L888.5 632.6 L889.6 631.6 L890.7 630.1 L891.8 629.9 L892.9 638.5 L894.1 643.7 L895.2 626.3 L896.3 623.1 L897.4 639.3 L898.5 626.8 L899.6 630.6 L900.8 628.9 L901.9 633.7 L903.0 619.6 L904.1 633.8 L905.2 630.4 L906.3 607.3 L907.5 621.5 L908.6 619.0 L909.7 623.8 L910.8 619.6 L911.9 613.5 L913.0 615.6 L914.2 619.8 L915.3 616.6 L916.4 614.1 L917.5 630.9 L918.6 617.3 L919.7 604.0 L920.8 612.2 L922.0 612.7 L923.1 601.8 L924.2 609.0 L925.3 600.7 L926.4 589.2 L927.5 607.4 L928.7 608.5 L929.8 607.2 L930.9 600.3 L932.0 595.8 L933.1 600.8 L934.2 601.1 L935.4 603.5 L936.5 605.5 L937.6 600.2 L938.7 588.4 L939.8 591.0 L940.9 579.4 L942.1 594.1 L943.2 591.7 L944.3 594.9 L945.4 588.0 L946.5 594.8 L947.6 575.9 L948.8 582.2 L949.9 576.1 L951.0 574.7 L952.1 561.1 L953.2 567.2 L954.3 555.9 L955.5 566.9 L956.6 562.3 L957.7 566.9 L958.8 550.0 L959.9 558.2 L961.0 558.4 L962.1 540.6 L963.3 569.3 L964.4 558.4 L965.5 546.8 L966.6 565.5 L967.7 559.5 L968.8 527.8 L970.0 542.8 L971.1 538.3 L972.2 541.5 L973.3 531.8 L974.4 535.2 L975.5 535.9 L976.7 513.7 L977.8 532.3 L978.9 540.4 L980.0 528.4 L981.1 534.5 L982.2 536.0 L983.4 523.7 L984.5 522.5 L985.6 520.6 L986.7 511.9 L987.8 531.4 L988.9 514.7 L990.1 513.6 L991.2 514.6 L992.3 516.7 L993.4 491.7 L994.5 492.2 L995.6 499.4 L996.8 500.2 L997.9 484.0 L999.0 480.5 L1000.1 495.6 L1001.2 493.0 L1002.3 482.5 L1003.4 480.3 L1004.6 475.2 L1005.7 468.6 L1006.8 468.8 L1007.9 475.2 L1009.0 470.1 L1010.1 477.4 L1011.3 456.5 L1012.4 451.3 L1013.5 467.8 L1014.6 453.3 L1015.7 456.3 L1016.8 457.1 L1018.0 444.4 L1019.1 440.0 L1020.2 452.9 L1021.3 426.1 L1022.4 451.7 L1023.5 429.7 L1024.7 449.1 L1025.8 442.9 L1026.9 440.2 L1028.0 440.3 L1029.1 435.3 L1030.2 420.6 L1031.4 436.8 L1032.5 428.9 L1033.6 429.6 L1034.7 422.4 L1035.8 419.1 L1036.9 426.9 L1038.0 424.8 L1039.2 416.6 L1040.3 402.2 L1041.4 402.1 L1042.5 399.2 L1043.6 414.8 L1044.7 407.4 L1045.9 401.3 L1047.0 397.2 L1048.1 389.8 L1049.2 400.7 L1050.3 382.5 L1051.4 381.8 L1052.6 393.9 L1053.7 389.8 L1054.8 381.6 L1055.9 369.0 L1057.0 366.8 L1058.1 382.7 L1059.3 376.4 L1060.4 383.9 L1061.5 364.9 L1062.6 366.2 L1063.7 356.7 L1064.8 377.1 L1066.0 346.3 L1067.1 364.3 L1068.2 371.2 L1069.3 347.1 L1070.4 341.2 L1071.5 343.3 L1072.7 338.1 L1073.8 352.0 L1074.9 346.8 L1076.0 338.3 L1077.1 342.6 L1078.2 357.1 L1079.3 340.7 L1080.5 338.5 L1081.6 358.1 L1082.7 332.5 L1083.8 335.5 L1084.9 351.8 L1086.0 338.7 L1087.2 321.1 L1088.3 329.8 L1089.4 317.3 L1090.5 331.0 L1091.6 339.2 L1092.7 321.7 L1093.9 349.4 L1095.0 346.9 L1096.1 342.8 L1097.2 329.2 L1098.3 335.9 L1099.4 340.5 L1100.6 344.1 L1101.7 346.9 L1102.8 316.8 L1103.9 329.6 L1105.0 325.7 L1106.1 333.1 L1107.3 338.1 L1108.4 356.6 L1109.5 335.8 L1110.6 344.8 L1111.7 338.0 L1112.8 337.0 L1114.0 353.0 L1115.1 328.1 L1116.2 344.2 L1117.3 356.8 L1118.4 369.1 L1119.5 334.8 L1120.6 331.6 L1121.8 329.1 L1122.9 337.1 L1124.0 341.2 L1125.1 341.8 L1126.2 352.2 L1127.3 340.2 L1128.5 346.4 L1129.6 329.7 L1130.7 339.2 L1131.8 344.4 L1132.9 325.8 L1134.0 348.6 L1135.2 356.3 L1136.3 350.2 L1137.4 352.6 L1138.5 351.8 L1139.6 342.6 L1140.7 354.7 L1141.9 350.7 L1143.0 357.9 L1144.1 359.1 L1145.2 361.1 L1146.3 350.1 L1147.4 362.8 L1148.6 380.3 L1149.7 374.9 L1150.8 366.6 L1151.9 364.1 L1153.0 381.0 L1154.1 374.3 L1155.3 360.9 L1156.4 374.5 L1157.5 395.1 L1158.6 368.0 L1159.7 385.3 L1160.8 380.4 L1161.9 388.6 L1163.1 387.9 L1164.2 386.2 L1165.3 373.9 L1166.4 396.6 L1167.5 401.1 L1168.6 402.1 L1169.8 396.6 L1170.9 402.9 L1172.0 429.6 L1173.1 403.6 L1174.2 413.0 L1175.3 407.8 L1176.5 419.1 L1177.6 425.8 L1178.7 436.7 L1179.8 431.0 L1180.9 431.9 L1182.0 437.6 L1183.2 442.1 L1184.3 439.8 L1185.4 442.7 L1186.5 456.0 L1187.6 442.5 L1188.7 450.6 L1189.9 446.5 L1191.0 452.6 L1192.1 472.2 L1193.2 456.7 L1194.3 469.6 L1195.4 485.7 L1196.5 475.3 L1197.7 472.4 L1198.8 470.1 L1199.9 458.3 L1201.0 474.2 L1202.1 477.2 L1203.2 495.3 L1204.4 495.9 L1205.5 482.3 L1206.6 500.6 L1207.7 493.0 L1208.8 515.8 L1209.9 515.6 L1211.1 511.8 L1212.2 505.8 L1213.3 526.0 L1214.4 521.5 L1215.5 526.5 L1216.6 524.2 L1217.8 520.5 L1218.9 531.6 L1220.0 521.3 L1221.1 537.0 L1222.2 534.7 L1223.3 522.7 L1224.5 542.4 L1225.6 540.7 L1226.7 540.7 L1227.8 545.7 L1228.9 555.2 L1230.0 542.7 L1231.2 545.8 L1232.3 562.6 L1233.4 560.9 L1234.5 548.5 L1235.6 565.6 L1236.7 553.9 L1237.8 575.2 L1239.0 574.5 L1240.1 578.6 L1241.2 565.4 L1242.3 573.7 L1243.4 588.9 L1244.5 573.9 L1245.7 591.1 L1246.8 587.9 L1247.9 593.1 L1249.0 588.1 L1250.1 601.4 L1251.2 602.2 L1252.4 608.1 L1253.5 622.9 L1254.6 604.7 L1255.7 609.3 L1256.8 603.1 L1257.9 626.6 L1259.1 613.0 L1260.2 623.8 L1261.3 611.7 L1262.4 620.6 L1263.5 629.3 L1264.6 630.6 L1265.8 627.1 L1266.9 638.1 L1268.0 634.5 L1269.1 643.7 L1270.2 636.2 L1271.3 644.9 L1272.5 638.7 L1273.6 653.7 L1274.7 646.4 L1275.8 648.9 L1276.9 646.2 L1278.0 659.9 L1279.1 655.6 L1280.3 654.8 L1281.4 668.0 L1282.5 654.7 L1283.6 669.4 L1284.7 675.0 L1285.8 653.4 L1287.0 674.3 L1288.1 673.5 L1289.2 672.8 L1290.3 675.7 L1291.4 666.1 L1292.5 680.2 L1293.7 680.0 L1294.8 669.4 L1295.9 680.4 L1297.0 674.8 L1298.1 685.8 L1299.2 680.4 L1300.4 689.2 L1301.5 679.9 L1302.6 687.9 L1303.7 690.4 L1304.8 693.4 L1305.9 704.6 L1307.1 713.6 L1308.2 689.1 L1309.3 707.3 L1310.4 701.1 L1311.5 702.6 L1312.6 704.1 L1313.8 706.8 L1314.9 708.9 L1316.0 717.0 L1317.1 721.7 L1318.2 716.9 L1319.3 716.4 L1320.4 721.7 L1321.6 722.1 L1322.7 733.5 L1323.8 716.0 L1324.9 714.7 L1326.0 724.0 L1327.1 729.5 L1328.3 727.4 L1329.4 732.0 L1330.5 714.5 L1331.6 728.4 L1332.7 730.7 L1333.8 727.6 L1335.0 734.2 L1336.1 738.2 L1337.2 744.0 L1338.3 736.7 L1339.4 733.3 L1340.5 748.6 L1341.7 760.3 L1342.8 750.0 L1343.9 751.3 L1345.0 745.4 L1346.1 754.9 L1347.2 765.5 L1348.4 743.5 L1349.5 764.7 L1350.6 746.6 L1351.7 770.7 L1352.8 767.7 L1353.9 761.7 L1355.1 767.0 L1356.2 777.4 L1357.3 760.9 L1358.4 776.9 L1359.5 774.4 L1360.6 771.9 L1361.7 782.5 L1362.9 763.7 L1364.0 774.8 L1365.1 769.0 L1366.2 777.5 L1367.3 782.5 L1368.4 769.8 L1369.6 783.0 L1370.7 784.1 L1371.8 779.5 L1372.9 783.8 L1374.0 792.3 L1375.1 788.3 L1376.3 797.7 L1377.4 781.5 L1378.5 781.2 L1379.6 797.7 L1380.7 782.5 L1381.8 799.7 L1383.0 792.7 L1384.1 798.0 L1385.2 792.4 L1386.3 802.0 L1387.4 804.7 L1388.5 804.8 L1389.7 801.1 L1390.8 790.6 L1391.9 805.8 L1393.0 801.2 L1394.1 809.7 L1395.2 792.7 L1396.3 805.8 L1397.5 801.1 L1398.6 804.5 L1399.7 810.9 L1400.8 811.4 L1401.9 816.0 L1403.0 810.8 L1404.2 812.2 L1405.3 811.6 L1406.4 803.3 L1407.5 817.9 L1408.6 807.0 L1409.7 809.7 L1410.9 816.4 L1412.0 810.3 L1413.1 812.5 L1414.2 800.8 L1415.3 811.5 L1416.4 810.8 L1417.6 814.6 L1418.7 822.6 L1419.8 818.4 L1420.9 820.0 L1422.0 822.3 L1423.1 828.7 L1424.3 829.9 L1425.4 826.7 L1426.5 823.4 L1427.6 831.1 L1428.7 824.7 L1429.8 826.2 L1431.0 829.9 L1432.1 825.9 L1433.2 823.0 L1434.3 822.9 L1435.4 829.3 L1436.5 833.2 L1437.6 836.5 L1438.8 828.7 L1439.9 835.4 L1441.0 835.0 L1442.1 832.9 L1443.2 851.4 L1444.3 832.6 L1445.5 832.7 L1446.6 839.2 L1447.7 848.3 L1448.8 837.6 L1449.9 848.4 L1451.0 835.1 L1452.2 839.4 L1453.3 841.2 L1454.4 841.4 L1455.5 843.8 L1456.6 843.5 L1457.7 843.5 L1458.9 839.4 L1460.0 848.7 L1461.1 846.6 L1462.2 848.3 L1463.3 854.3 L1464.4 850.9 L1465.6 849.8 L1466.7 857.2 L1467.8 846.8 L1468.9 840.8 L1470.0 847.0 L1471.1 843.6 L1472.3 849.7 L1473.4 850.3 L1474.5 851.7 L1475.6 854.1 L1476.7 856.5 L1477.8 855.8 L1478.9 854.6 L1480.1 852.4 L1481.2 851.7 L1482.3 854.8 L1483.4 853.8 L1484.5 849.4 L1485.6 853.6 L1486.8 860.3 L1487.9 857.0 L1489.0 852.4 L1490.1 858.8 L1491.2 861.4 L1492.3 852.1 L1493.5 867.9 L1494.6 865.4 L1495.7 858.4 L1496.8 865.9 L1497.9 861.4 L1499.0 863.8 L1500.2 855.6 L1501.3 858.2 L1502.4 859.9 L1503.5 860.9 L1504.6 859.0 L1505.7 853.1 L1506.9 856.0 L1508.0 864.8 L1509.1 860.4 L1510.2 872.1 L1511.3 870.5 L1512.4 861.9 L1513.6 864.5 L1514.7 853.3 L1515.8 867.6 L1516.9 870.0 L1518.0 859.7 L1519.1 859.8 L1520.2 861.1 L1521.4 868.4 L1522.5 870.3 L1523.6 859.2 L1524.7 862.7 L1525.8 867.9 L1526.9 866.3 L1528.1 863.5 L1529.2 868.2 L1530.3 860.4 L1531.4 857.3 L1532.5 869.1 L1533.6 869.9 L1534.8 873.2 L1535.9 864.4 L1537.0 861.6 L1538.1 866.7 L1539.2 866.0 L1540.3 866.9 L1541.5 866.2 L1542.6 874.1 L1543.7 868.5 L1544.8 874.3 L1545.9 863.2 L1547.0 861.6 L1548.2 872.3 L1549.3 860.6 L1550.4 861.0 L1551.5 861.2 L1552.6 857.3 L1553.7 870.1 L1554.9 876.8 L1556.0 870.7 L1557.1 872.2 L1558.2 865.7 L1559.3 862.3 L1560.4 870.5 L1561.5 861.2 L1562.7 859.1 L1563.8 862.7 L1564.9 873.3 L1566.0 869.5 L1567.1 865.9 L1568.2 861.3 L1569.4 861.9 L1570.5 868.9 L1571.6 866.5 L1572.7 862.6 L1573.8 873.0 L1574.9 863.0 L1576.1 857.5 L1577.2 864.9 L1578.3 872.1 L1579.4 870.0 L1580.5 871.1 L1581.6 861.3 L1582.8 868.1 L1583.9 866.3 L1585.0 864.0 L1586.1 858.9 L1587.2 872.0 L1588.3 865.6 L1589.5 861.8 L1590.6 868.9 L1591.7 878.7 L1592.8 856.1 L1593.9 865.8 L1595.0 874.3 L1596.1 874.3 L1597.3 858.2 L1598.4 860.8 L1599.5 852.2 L1600.6 863.3 L1601.7 854.7 L1602.8 857.2 L1604.0 871.0 L1605.1 856.2 L1606.2 852.9 L1607.3 863.0 L1608.4 864.1 L1609.5 864.2 L1610.7 869.5 L1611.8 859.0 L1612.9 862.2 L1614.0 866.6 L1615.1 860.6 L1616.2 870.8 L1617.4 868.5 L1618.5 863.2 L1619.6 862.0 L1620.7 863.2 L1621.8 864.8 L1622.9 851.9 L1624.1 855.6 L1625.2 858.4 L1626.3 858.1 L1627.4 859.2 L1628.5 859.3 L1629.6 863.2 L1630.8 860.8 L1631.9 864.6 L1633.0 864.4 L1634.1 862.3 L1635.2 860.2 L1636.3 858.3 L1637.4 866.8 L1638.6 859.8 L1639.7 863.6 L1640.8 866.8 L1641.9 863.5 L1643.0 853.2 L1644.1 857.8 L1645.3 873.2 L1646.4 852.8 L1647.5 869.0 L1648.6 855.6 L1649.7 862.3 L1650.8 867.8 L1652.0 856.0 L1653.1 867.3 L1654.2 849.0 L1655.3 860.6 L1656.4 857.8 L1657.5 863.6 L1658.7 865.7 L1659.8 867.9 L1660.9 867.6 L1662.0 858.7 L1663.1 855.8 L1664.2 863.3 L1665.4 857.7 L1666.5 848.7 L1667.6 848.2 L1668.7 858.0 L1669.8 857.9 L1670.9 860.6 L1672.1 861.2 L1673.2 850.8 L1674.3 861.5 L1675.4 853.2 L1676.5 862.1 L1677.6 859.4 L1678.7 868.5 L1679.9 861.5 L1681.0 856.3 L1682.1 857.9 L1683.2 859.5 L1684.3 862.4 L1685.4 863.5 L1686.6 854.2 L1687.7 853.3 L1688.8 863.4 L1689.9 859.2 L1691.0 865.3 L1692.1 862.0 L1693.3 868.9 L1694.4 862.9 L1695.5 852.3 L1696.6 856.8 L1697.7 862.4 L1698.8 853.2 L1700.0 859.3 L1701.1 863.0 L1702.2 865.6 L1703.3 864.2 L1704.4 850.6 L1705.5 865.9 L1706.7 854.1 L1707.8 859.6 L1708.9 854.5 L1710.0 864.5 L1711.1 858.8 L1712.2 860.5 L1713.4 861.6 L1714.5 858.7 L1715.6 855.4 L1716.7 867.1 L1717.8 862.3 L1718.9 863.3 L1720.0 848.8 L1721.2 847.4 L1722.3 868.1 L1723.4 862.6 L1724.5 848.4 L1725.6 860.7 L1726.7 858.7 L1727.9 852.5 L1729.0 855.5 L1730.1 868.2 L1731.2 853.7 L1732.3 860.4 L1733.4 853.0 L1734.6 848.7 L1735.7 871.1 L1736.8 861.1 L1737.9 854.4 L1739.0 855.0 L1740.1 855.4 L1741.3 850.9 L1742.4 859.3 L1743.5 860.2 L1744.6 854.2 L1745.7 856.2 L1746.8 849.0 L1748.0 857.7 L1749.1 845.0 L1750.2 855.6 L1751.3 864.4 L1752.4 854.4 L1753.5 871.4 L1754.6 849.7 L1755.8 854.4 L1756.9 855.7 L1758.0 861.0 L1759.1 862.6 L1760.2 856.7 L1761.3 847.0 L1762.5 863.7 L1763.6 859.2 L1764.7 860.0 L1765.8 846.4 L1766.9 858.0 L1768.0 854.3 L1769.2 860.7 L1770.3 864.9 L1771.4 850.2 L1772.5 854.4 L1773.6 855.1 L1774.7 850.5 L1775.9 857.9 L1777.0 857.7 L1778.1 849.7 L1779.2 849.8 L1780.3 856.1 L1781.4 844.6 L1782.6 856.4 L1783.7 859.4 L1784.8 859.4 L1785.9 849.3 L1787.0 864.6 L1788.1 866.3 L1789.3 848.3 L1790.4 864.4 L1791.5 862.1 L1792.6 859.8 L1793.7 850.5 L1794.8 860.5 L1795.9 848.6 L1797.1 855.2 L1798.2 859.6 L1799.3 857.9 L1800.4 853.5 L1801.5 857.3 L1802.6 854.5 L1803.8 856.8 L1804.9 851.0 L1806.0 848.7 L1807.1 852.2 L1808.2 848.4 L1809.3 861.7 L1810.5 869.9 L1811.6 859.2 L1812.7 862.0 L1813.8 849.5 L1814.9 854.7 L1816.0 849.2 L1817.2 859.0 L1818.3 856.1 L1819.4 849.8 L1820.5 863.4 L1821.6 855.3 L1822.7 859.9 L1823.9 860.5 L1825.0 863.5 L1826.1 862.7 L1827.2 855.8 L1828.3 854.3 L1829.4 852.0 L1830.6 849.7 L1831.7 865.3 L1832.8 852.4 L1833.9 863.4 L1835.0 850.7 L1836.1 851.6 L1837.2 861.0 L1838.4 854.7 L1839.5 851.2 L1840.6 864.7 L1841.7 848.7 L1842.8 851.4 L1843.9 859.8 L1845.1 864.5 L1846.2 856.3 L1847.3 851.8 L1848.4 869.0 L1849.5 856.9 L1850.6 853.5 L1851.8 857.9 L1852.9 864.0 L1854.0 842.1 L1855.1 852.1 L1856.2 862.2 L1857.3 861.4 L1858.5 859.1 L1859.6 858.2 L1860.7 862.6 L1861.8 865.6 L1862.9 856.8 L1864.0 857.9 L1865.2 864.8 L1866.3 859.0 L1867.4 854.0 L1868.5 860.5 L1869.6 855.8 L1870.7 865.6 L1871.9 867.4 L1873.0 859.5 L1874.1 862.7 L1875.2 865.7 L1876.3 871.0 L1877.4 870.2 L1878.5 866.6 L1879.7 867.5 L1880.8 873.5 L1881.9 870.1 L1883.0 869.8 L1884.1 861.5 L1885.2 868.9 L1886.4 870.7 L1887.5 869.1 L1888.6 863.5 L1889.7 859.7 L1890.8 873.2 L1891.9 873.7 L1893.1 871.4 L1894.2 866.3 L1895.3 869.0 L1896.4 871.5 L1897.5 876.3 L1898.6 873.2 L1899.8 868.7 L1900.9 870.8 L1902.0 867.5 L1903.1 884.1 L1904.2 870.8 L1905.3 882.9 L1906.5 877.0 L1907.6 885.7 L1908.7 870.5 L1909.8 880.7 L1910.9 872.2 L1912.0 872.7 L1913.2 873.9 L1914.3 871.1 L1915.4 873.6 L1916.5 877.4 L1917.6 888.0 L1918.7 877.2 L1919.8 871.7 L1921.0 883.6 L1922.1 888.0 L1923.2 867.3 L1924.3 883.8 L1925.4 874.2 L1926.5 872.2 L1927.7 885.9 L1928.8 890.7 L1929.9 893.2 L1931.0 884.0 L1932.1 882.3 L1933.2 885.7 L1934.4 888.3 L1935.5 890.4 L1936.6 893.4 L1937.7 888.8 L1938.8 890.2 L1939.9 888.8 L1941.1 884.0 L1942.2 890.8 L1943.3 896.7 L1944.4 893.3 L1945.5 878.3 L1946.6 898.3 L1947.8 886.0 L1948.9 903.1 L1950.0 902.7 L1951.1 895.3 L1952.2 901.9 L1953.3 888.0 L1954.4 891.7 L1955.6 889.3 L1956.7 895.3 L1957.8 894.0 L1958.9 895.2 L1960.0 894.9 L1961.1 902.5 L1962.3 895.0 L1963.4 892.9 L1964.5 896.1 L1965.6 898.3 L1966.7 898.4 L1967.8 890.9 L1969.0 894.0 L1970.1 895.3 L1971.2 892.3 L1972.3 888.9 L1973.4 894.4 L1974.5 884.0 L1975.7 896.7 L1976.8 891.7 L1977.9 897.1 L1979.0 898.4 L1980.1 909.6 L1981.2 910.4 L1982.4 912.0 L1983.5 901.1 L1984.6 898.3 L1985.7 905.8 L1986.8 896.1 L1987.9 901.4 L1989.1 898.2 L1990.2 902.3 L1991.3 906.9 L1992.4 897.5 L1993.5 904.9 L1994.6 904.8 L1995.7 905.3 L1996.9 907.0 L1998.0 902.7 L1999.1 904.6 L2000.2 903.5 L2001.3 897.5 L2002.4 913.9 L2003.6 910.0 L2004.7 910.2 L2005.8 903.5 L2006.9 898.1 L2008.0 909.0 L2009.1 903.2 L2010.3 917.7 L2011.4 917.7 L2012.5 906.2 L2013.6 916.3 L2014.7 913.4 L2015.8 909.6 L2017.0 902.2 L2018.1 913.9 L2019.2 915.8 L2020.3 916.3 L2021.4 909.2 L2022.5 912.7 L2023.7 913.1 L2024.8 913.5 L2025.9 910.5 L2027.0 919.7 L2028.1 917.5 L2029.2 912.9 L2030.4 917.5 L2031.5 920.8 L2032.6 917.9 L2033.7 918.1 L2034.8 920.9 L2035.9 913.3 L2037.0 921.2 L2038.2 914.5 L2039.3 919.4 L2040.4 925.0 L2041.5 916.7 L2042.6 925.3 L2043.7 923.1 L2044.9 927.0 L2046.0 912.6 L2047.1 900.5 L2048.2 916.0 L2049.3 931.8 L2050.4 922.9 L2051.6 920.3 L2052.7 922.0 L2053.8 924.4 L2054.9 921.4 L2056.0 934.4 L2057.1 923.3 L2058.3 916.0 L2059.4 916.3 L2060.5 922.4 L2061.6 923.1 L2062.7 927.5 L2063.8 928.3 L2065.0 928.8 L2066.1 918.4 L2067.2 926.0 L2068.3 920.6 L2069.4 924.9 L2070.5 918.8 L2071.7 931.0 L2072.8 931.6 L2073.9 926.4 L2075.0 919.9 L2076.1 930.3 L2077.2 926.6 L2078.3 918.3 L2079.5 928.7 L2080.6 930.0 L2081.7 928.2 L2082.8 916.7 L2083.9 929.6 L2085.0 931.1 L2086.2 923.3 L2087.3 932.1 L2088.4 929.3 L2089.5 931.8 L2090.6 918.2 L2091.7 925.7 L2092.9 929.9 L2094.0 919.9 L2095.1 928.3 L2096.2 936.6 L2097.3 920.2 L2098.4 935.4 L2099.6 932.9 L2100.7 924.0 L2101.8 924.6 L2102.9 924.3 L2104.0 930.6 L2105.1 917.2 L2106.3 932.6 L2107.4 921.6 L2108.5 927.6 L2109.6 927.3 L2110.7 933.6 L2111.8 924.7 L2113.0 925.7 L2114.1 936.1 L2115.2 938.6 L2116.3 930.0 L2117.4 928.6 L2118.5 931.8 L2119.6 931.0 L2120.8 930.8 L2121.9 925.9 L2123.0 919.8 L2124.1 932.4 L2125.2 931.1 L2126.3 937.3 L2127.5 937.4 L2128.6 940.2 L2129.7 929.5 L2130.8 935.9 L2131.9 926.0 L2133.0 933.9 L2134.2 935.3 L2135.3 929.3 L2136.4 932.6 L2137.5 945.8 L2138.6 929.3 L2139.7 939.1 L2140.9 932.2 L2142.0 938.9 L2143.1 921.4 L2144.2 928.1 L2145.3 933.7 L2146.4 943.6 L2147.6 934.6 L2148.7 929.4 L2149.8 933.7 L2150.9 940.1 L2152.0 928.5 L2153.1 936.9 L2154.2 935.8 L2155.4 935.0 L2156.5 939.3 L2157.6 933.7 L2158.7 940.7 L2159.8 941.2 L2160.9 947.0 L2162.1 940.2 L2163.2 938.4 L2164.3 933.3 L2165.4 936.4 L2166.5 932.7 L2167.6 946.4 L2168.8 927.9 L2169.9 941.9 L2171.0 942.2 L2172.1 943.4 L2173.2 937.9 L2174.3 951.4 L2175.5 938.7 L2176.6 932.4 L2177.7 937.1 L2178.8 936.8 L2179.9 947.1 L2181.0 940.4 L2182.2 936.1 L2183.3 936.1 L2184.4 940.1 L2185.5 938.5 L2186.6 940.4 L2187.7 946.1 L2188.9 934.1 L2190.0 937.8 L2191.1 942.4 L2192.2 933.8 L2193.3 944.6 L2194.4 948.5 L2195.5 942.4 L2196.7 946.1 L2197.8 940.4 L2198.9 942.3 L2200.0 943.8 L2201.1 942.4 L2202.2 948.9 L2203.4 940.6 L2204.5 947.6 L2205.6 941.0 L2206.7 951.3 L2207.8 950.5 L2208.9 945.5 L2210.1 936.9 L2211.2 939.5 L2212.3 930.7 L2213.4 948.3 L2214.5 941.9 L2215.6 940.6 L2216.8 944.6 L2217.9 937.4 L2219.0 942.4 L2220.1 945.9 L2221.2 950.0 L2222.3 956.6 L2223.5 941.5 L2224.6 950.4 L2225.7 942.9 L2226.8 940.9 L2227.9 948.1 L2229.0 946.1 L2230.2 938.9 L2231.3 946.4 L2232.4 956.7 L2233.5 943.1 L2234.6 943.3 L2235.7 953.5 L2236.8 948.7 L2238.0 943.8 L2239.1 950.1 L2240.2 945.1 L2241.3 943.9 L2242.4 949.8 L2243.5 943.4 L2244.7 951.8 L2245.8 955.9 L2246.9 944.6 L2248.0 944.4 L2249.1 944.2 L2250.2 947.6 L2251.4 943.8 L2252.5 948.1 L2253.6 951.6 L2254.7 942.0 L2255.8 948.6 L2256.9 953.2 L2258.1 951.6 L2259.2 942.7 L2260.3 953.6 L2261.4 942.2 L2262.5 952.1 L2263.6 938.9 L2264.8 949.9 L2265.9 945.2 L2267.0 944.9 L2268.1 944.5 L2269.2 941.5 L2270.3 948.6 L2271.5 947.0 L2272.6 950.3 L2273.7 941.9 L2274.8 949.7 L2275.9 951.1 L2277.0 941.4 L2278.1 952.2 L2279.3 953.6 L2280.4 939.8 L2281.5 941.1 L2282.6 958.2 L2283.7 947.5 L2284.8 945.1 L2286.0 941.1 L2287.1 949.1 L2288.2 943.5 L2289.3 947.7 L2290.4 946.7 L2291.5 948.1 L2292.7 949.0 L2293.8 944.2 L2294.9 948.0 L2296.0 948.6 L2297.1 944.3 L2298.2 941.9 L2299.4 946.9 L2300.5 953.5 L2301.6 944.6"/>
<path stroke="#555555" d="M353.8 728.0 L354.9 720.1 L356.1 726.8 L357.2 721.7 L358.3 709.3 L359.4 725.9 L360.5 717.0 L361.6 720.8 L362.7 728.1 L363.9 715.9 L365.0 705.3 L366.1 706.9 L367.2 717.6 L368.3 699.1 L369.4 710.0 L370.6 709.6 L371.7 697.7 L372.8 705.9 L373.9 707.5 L375.0 697.0 L376.1 698.0 L377.3 704.1 L378.4 690.0 L379.5 691.9 L380.6 703.8 L381.7 696.6 L382.8 684.9 L384.0 694.0 L385.1 706.6 L386.2 681.1 L387.3 696.6 L388.4 695.2 L389.5 687.5 L390.7 692.1 L391.8 681.9 L392.9 696.8 L394.0 697.0 L395.1 677.4 L396.2 681.2 L397.4 682.6 L398.5 676.2 L399.6 682.2 L400.7 671.2 L401.8 681.7 L402.9 674.4 L404.0 675.1 L405.2 677.8 L406.3 680.0 L407.4 665.0 L408.5 676.7 L409.6 676.2 L410.7 667.8 L411.9 678.6 L413.0 660.7 L414.1 661.0 L415.2 666.5 L416.3 657.4 L417.4 671.2 L418.6 661.2 L419.7 670.9 L420.8 649.3 L421.9 648.7 L423.0 664.1 L424.1 645.2 L425.3 659.4 L426.4 644.2 L427.5 650.7 L428.6 656.0 L429.7 645.6 L430.8 636.2 L432.0 639.7 L433.1 650.3 L434.2 642.0 L435.3 644.5 L436.4 638.5 L437.5 638.7 L438.7 633.8 L439.8 626.3 L440.9 636.6 L442.0 632.6 L443.1 615.1 L444.2 628.6 L445.3 634.4 L446.5 640.3 L447.6 614.3 L448.7 623.9 L449.8 625.9 L450.9 626.0 L452.0 613.7 L453.2 621.4 L454.3 613.0 L455.4 614.4 L456.5 609.4 L457.6 614.3 L458.7 607.6 L459.9 611.4 L461.0 607.1 L462.1 613.3 L463.2 617.7 L464.3 602.9 L465.4 596.6 L466.6 599.0 L467.7 595.3 L468.8 585.4 L469.9 596.8 L471.0 591.6 L472.1 600.8 L473.3 591.6 L474.4 598.4 L475.5 595.9 L476.6 584.9 L477.7 584.8 L478.8 582.0 L479.9 581.3 L481.1 589.8 L482.2 578.2 L483.3 577.7 L484.4 573.5 L485.5 589.2 L486.6 574.4 L487.8 574.7 L488.9 567.9 L490.0 575.1 L491.1 566.0 L492.2 565.6 L493.3 553.7 L494.5 555.5 L495.6 568.5 L496.7 571.7 L497.8 551.6 L498.9 564.6 L500.0 563.5 L501.2 584.6 L502.3 551.9 L503.4 553.2 L504.5 549.1 L505.6 562.6 L506.7 563.2 L507.9 551.8 L509.0 564.7 L510.1 568.2 L511.2 547.0 L512.3 554.0 L513.4 547.2 L514.6 542.7 L515.7 543.2 L516.8 544.1 L517.9 534.9 L519.0 543.6 L520.1 549.8 L521.2 535.2 L522.4 537.8 L523.5 534.1 L524.6 543.7 L525.7 539.2 L526.8 546.8 L527.9 536.4 L529.1 526.8 L530.2 542.5 L531.3 535.2 L532.4 546.3 L533.5 542.6 L534.6 515.8 L535.8 520.7 L536.9 536.4 L538.0 530.0 L539.1 518.0 L540.2 531.4 L541.3 545.8 L542.5 540.6 L543.6 528.5 L544.7 537.8 L545.8 543.6 L546.9 534.1 L548.0 549.8 L549.2 530.2 L550.3 552.6 L551.4 548.3 L552.5 540.4 L553.6 538.3 L554.7 536.9 L555.9 529.5 L557.0 545.0 L558.1 547.6 L559.2 544.1 L560.3 540.4 L561.4 539.4 L562.5 531.6 L563.7 534.2 L564.8 528.4 L565.9 544.1 L567.0 533.7 L568.1 548.0 L569.2 536.7 L570.4 553.8 L571.5 555.6 L572.6 556.0 L573.7 553.6 L574.8 542.9 L575.9 543.6 L577.1 541.0 L578.2 550.2 L579.3 561.7 L580.4 540.7 L581.5 569.2 L582.6 546.6 L583.8 542.8 L584.9 555.5 L586.0 562.2 L587.1 551.8 L588.2 547.6 L589.3 570.2 L590.5 548.8 L591.6 566.1 L592.7 560.4 L593.8 557.2 L594.9 561.4 L596.0 553.4 L597.2 554.1 L598.3 566.1 L599.4 556.6 L600.5 559.6 L601.6 577.8 L602.7 581.4 L603.8 577.0 L605.0 576.2 L606.1 568.3 L607.2 571.9 L608.3 566.4 L609.4 551.3 L610.5 575.6 L611.7 576.8 L612.8 583.7 L613.9 567.8 L615.0 586.9 L616.1 574.9 L617.2 570.5 L618.4 579.0 L619.5 589.1 L620.6 582.8 L621.7 587.3 L622.8 578.0 L623.9 589.4 L625.1 594.2 L626.2 580.7 L627.3 591.6 L628.4 578.9 L629.5 591.7 L630.6 579.3 L631.8 594.6 L632.9 592.2 L634.0 584.4 L635.1 596.5 L636.2 586.9 L637.3 595.7 L638.4 588.7 L639.6 600.5 L640.7 592.7 L641.8 608.5 L642.9 601.7 L644.0 602.9 L645.1 589.3 L646.3 584.2 L647.4 594.6 L648.5 615.0 L649.6 594.7 L650.7 611.7 L651.8 612.5 L653.0 599.1 L654.1 602.5 L655.2 614.5 L656.3 603.2 L657.4 602.6 L658.5 601.8 L659.7 607.2 L660.8 606.2 L661.9 616.8 L663.0 609.7 L664.1 617.1 L665.2 607.7 L666.4 627.8 L667.5 608.2 L668.6 608.2 L669.7 603.5 L670.8 596.9 L671.9 603.2 L673.1 611.5 L674.2 602.4 L675.3 616.2 L676.4 597.6 L677.5 597.2 L678.6 612.1 L679.7 612.6 L680.9 601.0 L682.0 617.6 L683.1 619.7 L684.2 611.7 L685.3 599.1 L686.4 618.0 L687.6 606.1 L688.7 606.7 L689.8 611.4 L690.9 602.3 L692.0 618.7 L693.1 602.3 L694.3 614.7 L695.4 612.2 L696.5 619.5 L697.6 609.7 L698.7 612.1 L699.8 602.4 L701.0 603.4 L702.1 600.3 L703.2 610.4 L704.3 599.6 L705.4 615.8 L706.5 603.4 L707.7 595.1 L708.8 598.9 L709.9 612.7 L711.0 600.2 L712.1 608.2 L713.2 591.8 L714.4 607.1 L715.5 609.6 L716.6 607.6 L717.7 609.8 L718.8 596.5 L719.9 591.6 L721.0 594.3 L722.2 610.6 L723.3 607.5 L724.4 610.6 L725.5 600.5 L726.6 610.9 L727.7 593.3 L728.9 608.2 L730.0 597.4 L731.1 602.1 L732.2 610.5 L733.3 612.2 L734.4 604.5 L735.6 603.0 L736.7 616.0 L737.8 613.6 L738.9 600.7 L740.0 608.0 L741.1 604.1 L742.3 612.9 L743.4 609.0 L744.5 608.7 L745.6 606.0 L746.7 601.1 L747.8 613.2 L749.0 607.8 L750.1 587.1 L751.2 601.4 L752.3 606.1 L753.4 598.3 L754.5 596.7 L755.7 598.6 L756.8 605.8 L757.9 595.7 L759.0 605.5 L760.1 612.8 L761.2 609.5 L762.3 609.6 L763.5 600.4 L764.6 610.7 L765.7 601.8 L766.8 608.2 L767.9 592.8 L769.0 610.7 L770.2 596.7 L771.3 601.2 L772.4 608.8 L773.5 600.7 L774.6 597.1 L775.7 599.3 L776.9 608.7 L778.0 608.7 L779.1 605.2 L780.2 595.3 L781.3 596.8 L782.4 604.7 L783.6 605.2 L784.7 594.0 L785.8 594.0 L786.9 604.4 L788.0 607.2 L789.1 599.4 L790.3 589.5 L791.4 610.4 L792.5 598.4 L793.6 601.4 L794.7 581.4 L795.8 592.0 L797.0 595.7 L798.1 599.3 L799.2 589.9 L800.3 584.7 L801.4 583.6 L802.5 592.8 L803.6 597.7 L804.8 597.1 L805.9 581.9 L807.0 589.3 L808.1 593.7 L809.2 601.7 L810.3 598.1 L811.5 595.7 L812.6 580.8 L813.7 601.5 L814.8 592.4 L815.9 594.6 L817.0 587.7 L818.2 591.1 L819.3 589.9 L820.4 589.3 L821.5 585.5 L822.6 597.2 L823.7 598.8 L824.9 587.8 L826.0 585.5 L827.1 585.5 L828.2 589.4 L829.3 602.4 L830.4 590.5 L831.6 605.3 L832.7 581.9 L833.8 583.2 L834.9 585.4 L836.0 584.8 L837.1 593.7 L838.2 604.4 L839.4 585.6 L840.5 593.7 L841.6 601.1 L842.7 609.2 L843.8 592.5 L844.9 598.3 L846.1 600.8 L847.2 591.5 L848.3 594.9 L849.4 587.8 L850.5 583.7 L851.6 585.7 L852.8 598.8 L853.9 600.0 L855.0 591.5 L856.1 580.2 L857.2 598.5 L858.3 588.9 L859.5 600.0 L860.6 589.1 L861.7 579.2 L862.8 585.4 L863.9 582.1 L865.0 598.8 L866.2 569.0 L867.3 581.3 L868.4 582.8 L869.5 569.1 L870.6 587.3 L871.7 588.1 L872.9 589.2 L874.0 588.4 L875.1 580.6 L876.2 587.7 L877.3 576.3 L878.4 579.2 L879.5 579.8 L880.7 577.8 L881.8 580.2 L882.9 570.4 L884.0 573.5 L885.1 569.0 L886.2 573.0 L887.4 573.9 L888.5 564.7 L889.6 580.6 L890.7 583.4 L891.8 571.7 L892.9 567.1 L894.1 560.6 L895.2 563.0 L896.3 561.6 L897.4 567.5 L898.5 561.0 L899.6 565.4 L900.8 563.3 L901.9 554.1 L903.0 546.5 L904.1 546.5 L905.2 546.2 L906.3 553.2 L907.5 561.4 L908.6 543.9 L909.7 555.0 L910.8 547.5 L911.9 557.5 L913.0 564.0 L914.2 553.7 L915.3 546.9 L916.4 547.0 L917.5 552.1 L918.6 538.5 L919.7 533.4 L920.8 539.6 L922.0 549.6 L923.1 530.3 L924.2 543.3 L925.3 540.1 L926.4 530.2 L927.5 524.4 L928.7 516.4 L929.8 518.8 L930.9 527.8 L932.0 530.9 L933.1 518.7 L934.2 517.7 L935.4 514.7 L936.5 538.7 L937.6 507.0 L938.7 504.7 L939.8 523.3 L940.9 504.7 L942.1 519.8 L943.2 503.7 L944.3 517.0 L945.4 518.3 L946.5 502.1 L947.6 504.1 L948.8 494.8 L949.9 508.2 L951.0 497.1 L952.1 490.4 L953.2 500.0 L954.3 497.8 L955.5 492.8 L956.6 488.1 L957.7 497.7 L958.8 483.0 L959.9 479.7 L961.0 483.0 L962.1 487.5 L963.3 478.3 L964.4 474.6 L965.5 469.6 L966.6 469.6 L967.7 468.8 L968.8 488.7 L970.0 455.9 L971.1 464.8 L972.2 467.1 L973.3 457.3 L974.4 452.8 L975.5 465.1 L976.7 469.8 L977.8 465.4 L978.9 454.3 L980.0 448.3 L981.1 455.3 L982.2 433.9 L983.4 438.3 L984.5 455.3 L985.6 444.3 L986.7 439.8 L987.8 434.6 L988.9 430.6 L990.1 424.3 L991.2 433.9 L992.3 430.9 L993.4 428.7 L994.5 401.3 L995.6 430.3 L996.8 424.3 L997.9 427.9 L999.0 407.4 L1000.1 391.3 L1001.2 396.2 L1002.3 397.2 L1003.4 419.5 L1004.6 393.4 L1005.7 393.4 L1006.8 403.4 L1007.9 400.0 L1009.0 398.1 L1010.1 383.3 L1011.3 400.8 L1012.4 385.7 L1013.5 372.3 L1014.6 380.6 L1015.7 362.3 L1016.8 361.2 L1018.0 363.5 L1019.1 356.5 L1020.2 360.0 L1021.3 356.1 L1022.4 355.1 L1023.5 349.0 L1024.7 363.8 L1025.8 342.8 L1026.9 344.3 L1028.0 338.5 L1029.1 338.8 L1030.2 330.1 L1031.4 357.5 L1032.5 334.0 L1033.6 341.2 L1034.7 328.2 L1035.8 317.5 L1036.9 322.0 L1038.0 318.0 L1039.2 310.7 L1040.3 320.0 L1041.4 331.0 L1042.5 315.9 L1043.6 321.0 L1044.7 320.8 L1045.9 289.6 L1047.0 321.4 L1048.1 290.2 L1049.2 316.0 L1050.3 299.2 L1051.4 300.3 L1052.6 312.4 L1053.7 299.7 L1054.8 273.6 L1055.9 269.6 L1057.0 272.9 L1058.1 290.7 L1059.3 282.5 L1060.4 285.8 L1061.5 279.6 L1062.6 284.9 L1063.7 262.8 L1064.8 253.8 L1066.0 262.8 L1067.1 274.7 L1068.2 256.8 L1069.3 243.3 L1070.4 258.4 L1071.5 268.4 L1072.7 264.8 L1073.8 256.9 L1074.9 254.4 L1076.0 239.0 L1077.1 257.0 L1078.2 273.7 L1079.3 251.2 L1080.5 269.9 L1081.6 243.1 L1082.7 250.1 L1083.8 249.0 L1084.9 252.7 L1086.0 236.1 L1087.2 263.0 L1088.3 248.8 L1089.4 231.8 L1090.5 257.2 L1091.6 252.4 L1092.7 239.4 L1093.9 250.0 L1095.0 258.5 L1096.1 257.5 L1097.2 254.5 L1098.3 245.5 L1099.4 254.4 L1100.6 263.7 L1101.7 272.2 L1102.8 258.4 L1103.9 260.4 L1105.0 262.2 L1106.1 251.3 L1107.3 238.0 L1108.4 249.1 L1109.5 252.7 L1110.6 256.7 L1111.7 254.7 L1112.8 248.1 L1114.0 249.9 L1115.1 252.8 L1116.2 247.2 L1117.3 247.9 L1118.4 240.1 L1119.5 252.8 L1120.6 257.4 L1121.8 250.9 L1122.9 254.9 L1124.0 258.8 L1125.1 248.7 L1126.2 253.4 L1127.3 251.8 L1128.5 265.1 L1129.6 251.8 L1130.7 263.2 L1131.8 245.7 L1132.9 281.0 L1134.0 271.4 L1135.2 260.5 L1136.3 268.7 L1137.4 287.8 L1138.5 273.1 L1139.6 260.4 L1140.7 275.1 L1141.9 272.8 L1143.0 283.5 L1144.1 282.3 L1145.2 268.3 L1146.3 286.8 L1147.4 295.4 L1148.6 301.3 L1149.7 293.9 L1150.8 309.7 L1151.9 308.1 L1153.0 304.2 L1154.1 313.4 L1155.3 279.3 L1156.4 315.3 L1157.5 319.4 L1158.6 307.9 L1159.7 318.5 L1160.8 307.8 L1161.9 314.6 L1163.1 317.1 L1164.2 311.9 L1165.3 321.8 L1166.4 310.7 L1167.5 327.8 L1168.6 346.7 L1169.8 351.1 L1170.9 337.1 L1172.0 355.4 L1173.1 346.5 L1174.2 334.6 L1175.3 343.2 L1176.5 351.1 L1177.6 354.3 L1178.7 363.1 L1179.8 354.3 L1180.9 359.9 L1182.0 375.5 L1183.2 370.6 L1184.3 376.1 L1185.4 375.0 L1186.5 384.7 L1187.6 388.2 L1188.7 378.0 L1189.9 397.5 L1191.0 385.2 L1192.1 396.7 L1193.2 394.1 L1194.3 405.3 L1195.4 405.0 L1196.5 410.4 L1197.7 409.6 L1198.8 410.3 L1199.9 415.9 L1201.0 416.9 L1202.1 412.8 L1203.2 409.5 L1204.4 429.8 L1205.5 438.9 L1206.6 422.7 L1207.7 437.8 L1208.8 431.2 L1209.9 440.5 L1211.1 449.0 L1212.2 447.3 L1213.3 445.0 L1214.4 433.5 L1215.5 450.5 L1216.6 454.6 L1217.8 467.7 L1218.9 454.4 L1220.0 461.9 L1221.1 467.0 L1222.2 478.4 L1223.3 461.0 L1224.5 480.2 L1225.6 475.2 L1226.7 473.2 L1227.8 470.2 L1228.9 476.1 L1230.0 493.4 L1231.2 485.2 L1232.3 484.4 L1233.4 491.4 L1234.5 508.1 L1235.6 508.0 L1236.7 509.3 L1237.8 513.2 L1239.0 514.2 L1240.1 507.3 L1241.2 504.4 L1242.3 525.7 L1243.4 517.4 L1244.5 522.0 L1245.7 519.8 L1246.8 530.1 L1247.9 539.3 L1249.0 527.9 L1250.1 534.8 L1251.2 536.6 L1252.4 543.8 L1253.5 540.9 L1254.6 543.8 L1255.7 541.2 L1256.8 548.6 L1257.9 545.1 L1259.1 558.8 L1260.2 554.4 L1261.3 570.6 L1262.4 554.9 L1263.5 554.5 L1264.6 571.9 L1265.8 572.0 L1266.9 558.8 L1268.0 591.8 L1269.1 572.7 L1270.2 584.8 L1271.3 575.5 L1272.5 586.1 L1273.6 591.5 L1274.7 581.6 L1275.8 590.3 L1276.9 596.5 L1278.0 607.7 L1279.1 601.8 L1280.3 607.2 L1281.4 603.3 L1282.5 606.4 L1283.6 607.6 L1284.7 604.0 L1285.8 594.0 L1287.0 597.3 L1288.1 614.7 L1289.2 617.9 L1290.3 616.9 L1291.4 614.3 L1292.5 617.0 L1293.7 613.4 L1294.8 633.7 L1295.9 614.7 L1297.0 641.2 L1298.1 628.0 L1299.2 652.1 L1300.4 639.0 L1301.5 635.2 L1302.6 640.4 L1303.7 638.0 L1304.8 654.7 L1305.9 645.4 L1307.1 649.3 L1308.2 643.1 L1309.3 655.7 L1310.4 642.6 L1311.5 650.5 L1312.6 666.3 L1313.8 644.1 L1314.9 663.1 L1316.0 671.4 L1317.1 665.5 L1318.2 677.1 L1319.3 677.3 L1320.4 673.6 L1321.6 660.4 L1322.7 670.2 L1323.8 672.9 L1324.9 684.1 L1326.0 678.0 L1327.1 678.1 L1328.3 672.7 L1329.4 682.0 L1330.5 686.6 L1331.6 669.2 L1332.7 687.6 L1333.8 692.3 L1335.0 689.2 L1336.1 691.6 L1337.2 690.2 L1338.3 701.9 L1339.4 693.3 L1340.5 707.0 L1341.7 702.7 L1342.8 688.4 L1343.9 701.1 L1345.0 706.7 L1346.1 712.1 L1347.2 708.6 L1348.4 708.4 L1349.5 716.5 L1350.6 723.5 L1351.7 701.6 L1352.8 711.3 L1353.9 728.8 L1355.1 720.8 L1356.2 713.7 L1357.3 733.8 L1358.4 737.2 L1359.5 723.8 L1360.6 732.1 L1361.7 728.8 L1362.9 732.8 L1364.0 738.6 L1365.1 731.8 L1366.2 734.7 L1367.3 734.7 L1368.4 726.8 L1369.6 743.1 L1370.7 747.2 L1371.8 744.3 L1372.9 745.0 L1374.0 751.8 L1375.1 743.1 L1376.3 742.3 L1377.4 753.9 L1378.5 753.3 L1379.6 765.4 L1380.7 745.7 L1381.8 756.3 L1383.0 749.8 L1384.1 773.4 L1385.2 757.9 L1386.3 767.0 L1387.4 748.5 L1388.5 758.1 L1389.7 770.7 L1390.8 764.2 L1391.9 764.0 L1393.0 773.7 L1394.1 771.1 L1395.2 772.3 L1396.3 774.3 L1397.5 770.5 L1398.6 784.7 L1399.7 782.4 L1400.8 775.9 L1401.9 775.3 L1403.0 766.7 L1404.2 772.3 L1405.3 789.1 L1406.4 773.7 L1407.5 779.6 L1408.6 793.9 L1409.7 790.8 L1410.9 787.0 L1412.0 788.2 L1413.1 784.2 L1414.2 788.2 L1415.3 788.1 L1416.4 797.1 L1417.6 794.2 L1418.7 785.3 L1419.8 799.8 L1420.9 796.9 L1422.0 799.3 L1423.1 800.9 L1424.3 798.6 L1425.4 795.6 L1426.5 803.3 L1427.6 803.1 L1428.7 794.9 L1429.8 796.1 L1431.0 799.4 L1432.1 801.7 L1433.2 798.8 L1434.3 791.0 L1435.4 807.9 L1436.5 796.8 L1437.6 794.4 L1438.8 797.0 L1439.9 803.4 L1441.0 802.2 L1442.1 789.8 L1443.2 795.1 L1444.3 795.5 L1445.5 801.3 L1446.6 807.5 L1447.7 803.3 L1448.8 820.3 L1449.9 814.2 L1451.0 818.6 L1452.2 814.7 L1453.3 803.1 L1454.4 814.6 L1455.5 803.3 L1456.6 806.9 L1457.7 815.2 L1458.9 814.8 L1460.0 819.1 L1461.1 814.4 L1462.2 823.4 L1463.3 822.4 L1464.4 820.3 L1465.6 814.4 L1466.7 815.9 L1467.8 826.8 L1468.9 838.6 L1470.0 818.8 L1471.1 823.4 L1472.3 817.6 L1473.4 808.6 L1474.5 827.9 L1475.6 825.8 L1476.7 829.5 L1477.8 822.0 L1478.9 821.3 L1480.1 836.0 L1481.2 821.8 L1482.3 832.2 L1483.4 834.2 L1484.5 828.8 L1485.6 825.8 L1486.8 831.1 L1487.9 819.3 L1489.0 828.6 L1490.1 828.4 L1491.2 822.5 L1492.3 829.6 L1493.5 837.1 L1494.6 846.0 L1495.7 825.6 L1496.8 835.3 L1497.9 835.4 L1499.0 831.3 L1500.2 829.9 L1501.3 836.6 L1502.4 838.3 L1503.5 825.4 L1504.6 843.4 L1505.7 833.6 L1506.9 835.3 L1508.0 831.4 L1509.1 842.5 L1510.2 827.2 L1511.3 832.4 L1512.4 836.3 L1513.6 830.1 L1514.7 834.3 L1515.8 838.9 L1516.9 843.1 L1518.0 835.1 L1519.1 833.4 L1520.2 839.2 L1521.4 837.1 L1522.5 830.3 L1523.6 841.8 L1524.7 835.0 L1525.8 831.4 L1526.9 842.7 L1528.1 840.4 L1529.2 832.3 L1530.3 841.1 L1531.4 832.9 L1532.5 833.7 L1533.6 831.1 L1534.8 842.2 L1535.9 836.2 L1537.0 840.6 L1538.1 829.2 L1539.2 834.4 L1540.3 826.7 L1541.5 832.8 L1542.6 834.2 L1543.7 835.4 L1544.8 827.2 L1545.9 842.7 L1547.0 826.4 L1548.2 843.3 L1549.3 835.3 L1550.4 842.3 L1551.5 829.7 L1552.6 836.4 L1553.7 839.1 L1554.9 848.7 L1556.0 838.1 L1557.1 846.1 L1558.2 837.6 L1559.3 844.0 L1560.4 835.5 L1561.5 836.1 L1562.7 841.2 L1563.8 827.9 L1564.9 825.7 L1566.0 836.5 L1567.1 848.2 L1568.2 844.1 L1569.4 835.8 L1570.5 838.9 L1571.6 836.4 L1572.7 837.3 L1573.8 843.5 L1574.9 827.8 L1576.1 827.5 L1577.2 822.8 L1578.3 829.1 L1579.4 840.5 L1580.5 833.8 L1581.6 826.1 L1582.8 830.1 L1583.9 830.9 L1585.0 839.9 L1586.1 836.5 L1587.2 835.9 L1588.3 840.8 L1589.5 836.5 L1590.6 839.9 L1591.7 828.3 L1592.8 827.3 L1593.9 830.6 L1595.0 845.1 L1596.1 825.8 L1597.3 833.7 L1598.4 835.6 L1599.5 826.5 L1600.6 824.7 L1601.7 844.6 L1602.8 831.1 L1604.0 829.6 L1605.1 834.0 L1606.2 832.3 L1607.3 822.8 L1608.4 820.9 L1609.5 830.1 L1610.7 826.5 L1611.8 830.8 L1612.9 823.8 L1614.0 846.7 L1615.1 833.8 L1616.2 843.3 L1617.4 828.1 L1618.5 830.5 L1619.6 828.2 L1620.7 831.7 L1621.8 834.0 L1622.9 828.3 L1624.1 824.9 L1625.2 827.1 L1626.3 830.1 L1627.4 836.3 L1628.5 821.7 L1629.6 826.3 L1630.8 833.4 L1631.9 839.2 L1633.0 828.3 L1634.1 832.8 L1635.2 829.7 L1636.3 829.4 L1637.4 831.8 L1638.6 827.7 L1639.7 829.5 L1640.8 829.2 L1641.9 840.6 L1643.0 831.0 L1644.1 841.3 L1645.3 830.5 L1646.4 832.2 L1647.5 826.3 L1648.6 832.5 L1649.7 839.9 L1650.8 841.2 L1652.0 825.0 L1653.1 846.5 L1654.2 833.6 L1655.3 834.8 L1656.4 837.7 L1657.5 832.1 L1658.7 826.6 L1659.8 832.1 L1660.9 829.6 L1662.0 843.5 L1663.1 832.0 L1664.2 818.1 L1665.4 839.8 L1666.5 835.3 L1667.6 831.3 L1668.7 820.2 L1669.8 851.3 L1670.9 829.4 L1672.1 829.3 L1673.2 827.8 L1674.3 832.2 L1675.4 830.6 L1676.5 833.0 L1677.6 833.9 L1678.7 831.0 L1679.9 837.6 L1681.0 824.5 L1682.1 836.4 L1683.2 833.0 L1684.3 830.8 L1685.4 835.0 L1686.6 832.1 L1687.7 831.9 L1688.8 827.7 L1689.9 825.3 L1691.0 821.4 L1692.1 822.8 L1693.3 826.4 L1694.4 835.1 L1695.5 828.8 L1696.6 831.0 L1697.7 823.7 L1698.8 820.8 L1700.0 830.5 L1701.1 844.1 L1702.2 823.1 L1703.3 837.9 L1704.4 822.7 L1705.5 822.4 L1706.7 824.0 L1707.8 824.3 L1708.9 834.4 L1710.0 830.5 L1711.1 829.7 L1712.2 825.9 L1713.4 834.6 L1714.5 840.0 L1715.6 830.8 L1716.7 826.7 L1717.8 822.6 L1718.9 826.9 L1720.0 821.2 L1721.2 836.8 L1722.3 824.1 L1723.4 835.7 L1724.5 821.2 L1725.6 833.8 L1726.7 832.1 L1727.9 833.1 L1729.0 830.2 L1730.1 821.9 L1731.2 844.6 L1732.3 819.5 L1733.4 834.7 L1734.6 826.7 L1735.7 821.0 L1736.8 832.4 L1737.9 836.2 L1739.0 833.5 L1740.1 819.1 L1741.3 822.5 L1742.4 830.4 L1743.5 829.2 L1744.6 832.3 L1745.7 825.2 L1746.8 815.5 L1748.0 818.6 L1749.1 827.5 L1750.2 819.4 L1751.3 817.1 L1752.4 829.1 L1753.5 833.6 L1754.6 821.2 L1755.8 823.9 L1756.9 824.2 L1758.0 830.5 L1759.1 823.3 L1760.2 823.2 L1761.3 824.4 L1762.5 817.2 L1763.6 832.6 L1764.7 834.0 L1765.8 824.9 L1766.9 825.3 L1768.0 825.8 L1769.2 824.7 L1770.3 819.9 L1771.4 828.5 L1772.5 828.8 L1773.6 830.6 L1774.7 818.3 L1775.9 825.4 L1777.0 816.2 L1778.1 835.3 L1779.2 814.8 L1780.3 823.2 L1781.4 833.5 L1782.6 813.4 L1783.7 824.7 L1784.8 813.7 L1785.9 829.5 L1787.0 821.6 L1788.1 820.2 L1789.3 818.0 L1790.4 826.9 L1791.5 824.5 L1792.6 828.0 L1793.7 828.7 L1794.8 820.2 L1795.9 825.3 L1797.1 831.7 L1798.2 826.9 L1799.3 826.3 L1800.4 824.5 L1801.5 821.1 L1802.6 824.0 L1803.8 823.6 L1804.9 839.0 L1806.0 822.2 L1807.1 817.8 L1808.2 826.2 L1809.3 822.5 L1810.5 820.1 L1811.6 828.9 L1812.7 822.8 L1813.8 819.0 L1814.9 827.5 L1816.0 836.0 L1817.2 832.1 L1818.3 825.7 L1819.4 826.1 L1820.5 824.1 L1821.6 828.7 L1822.7 823.2 L1823.9 826.7 L1825.0 823.6 L1826.1 826.0 L1827.2 812.6 L1828.3 824.8 L1829.4 821.5 L1830.6 823.1 L1831.7 827.5 L1832.8 817.5 L1833.9 820.0 L1835.0 826.5 L1836.1 825.9 L1837.2 831.2 L1838.4 827.8 L1839.5 816.1 L1840.6 828.5 L1841.7 825.2 L1842.8 827.1 L1843.9 832.5 L1845.1 827.1 L1846.2 825.4 L1847.3 817.0 L1848.4 824.2 L1849.5 832.0 L1850.6 830.4 L1851.8 819.9 L1852.9 819.1 L1854.0 825.2 L1855.1 830.5 L1856.2 823.4 L1857.3 836.3 L1858.5 841.2 L1859.6 821.7 L1860.7 841.0 L1861.8 840.7 L1862.9 816.7 L1864.0 819.3 L1865.2 828.6 L1866.3 829.8 L1867.4 824.8 L1868.5 830.3 L1869.6 835.3 L1870.7 825.4 L1871.9 817.4 L1873.0 829.5 L1874.1 836.5 L1875.2 841.0 L1876.3 838.8 L1877.4 815.9 L1878.5 825.7 L1879.7 832.6 L1880.8 828.5 L1881.9 837.3 L1883.0 837.1 L1884.1 840.1 L1885.2 843.8 L1886.4 832.2 L1887.5 846.6 L1888.6 827.8 L1889.7 830.3 L1890.8 830.4 L1891.9 832.0 L1893.1 841.8 L1894.2 848.3 L1895.3 829.6 L1896.4 843.3 L1897.5 846.6 L1898.6 841.3 L1899.8 827.8 L1900.9 843.1 L1902.0 846.1 L1903.1 830.2 L1904.2 838.4 L1905.3 848.1 L1906.5 844.1 L1907.6 849.3 L1908.7 850.5 L1909.8 835.5 L1910.9 836.1 L1912.0 849.1 L1913.2 841.9 L1914.3 849.4 L1915.4 847.9 L1916.5 839.8 L1917.6 850.6 L1918.7 847.8 L1919.8 841.6 L1921.0 842.5 L1922.1 842.4 L1923.2 847.8 L1924.3 851.9 L1925.4 849.7 L1926.5 845.6 L1927.7 838.6 L1928.8 847.7 L1929.9 846.7 L1931.0 843.6 L1932.1 842.5 L1933.2 857.4 L1934.4 857.4 L1935.5 840.2 L1936.6 854.7 L1937.7 851.5 L1938.8 860.2 L1939.9 844.8 L1941.1 855.9 L1942.2 847.0 L1943.3 849.3 L1944.4 852.2 L1945.5 857.0 L1946.6 852.4 L1947.8 842.8 L1948.9 857.3 L1950.0 852.7 L1951.1 851.7 L1952.2 843.3 L1953.3 851.3 L1954.4 861.2 L1955.6 862.1 L1956.7 857.9 L1957.8 850.3 L1958.9 860.5 L1960.0 851.3 L1961.1 861.5 L1962.3 854.1 L1963.4 848.7 L1964.5 860.7 L1965.6 859.8 L1966.7 860.3 L1967.8 854.2 L1969.0 853.8 L1970.1 867.0 L1971.2 860.6 L1972.3 870.9 L1973.4 871.4 L1974.5 855.9 L1975.7 860.5 L1976.8 846.0 L1977.9 863.0 L1979.0 860.0 L1980.1 865.7 L1981.2 862.8 L1982.4 862.1 L1983.5 860.9 L1984.6 861.6 L1985.7 873.7 L1986.8 870.8 L1987.9 880.1 L1989.1 872.7 L1990.2 866.2 L1991.3 866.2 L1992.4 878.9 L1993.5 859.0 L1994.6 871.0 L1995.7 869.9 L1996.9 859.2 L1998.0 878.2 L1999.1 872.5 L2000.2 871.6 L2001.3 868.4 L2002.4 873.6 L2003.6 873.7 L2004.7 880.8 L2005.8 873.5 L2006.9 890.0 L2008.0 873.1 L2009.1 877.9 L2010.3 873.9 L2011.4 883.1 L2012.5 876.3 L2013.6 887.6 L2014.7 885.7 L2015.8 882.9 L2017.0 871.5 L2018.1 881.4 L2019.2 881.6 L2020.3 886.1 L2021.4 875.0 L2022.5 887.3 L2023.7 888.0 L2024.8 884.2 L2025.9 886.8 L2027.0 882.9 L2028.1 891.6 L2029.2 880.0 L2030.4 883.4 L2031.5 902.3 L2032.6 887.9 L2033.7 888.6 L2034.8 884.1 L2035.9 888.5 L2037.0 891.9 L2038.2 884.3 L2039.3 883.3 L2040.4 889.6 L2041.5 901.5 L2042.6 891.3 L2043.7 908.1 L2044.9 900.8 L2046.0 898.1 L2047.1 892.3 L2048.2 898.3 L2049.3 912.4 L2050.4 888.7 L2051.6 898.8 L2052.7 906.5 L2053.8 902.9 L2054.9 898.5 L2056.0 895.7 L2057.1 903.7 L2058.3 889.1 L2059.4 909.2 L2060.5 894.8 L2061.6 888.6 L2062.7 898.3 L2063.8 899.4 L2065.0 898.6 L2066.1 891.7 L2067.2 896.9 L2068.3 905.6 L2069.4 903.8 L2070.5 908.5 L2071.7 903.3 L2072.8 896.7 L2073.9 901.3 L2075.0 903.7 L2076.1 904.9 L2077.2 905.6 L2078.3 905.7 L2079.5 908.3 L2080.6 908.8 L2081.7 900.6 L2082.8 911.7 L2083.9 909.2 L2085.0 903.9 L2086.2 907.1 L2087.3 905.1 L2088.4 907.6 L2089.5 896.3 L2090.6 896.4 L2091.7 911.6 L2092.9 905.2 L2094.0 914.9 L2095.1 915.9 L2096.2 909.6 L2097.3 918.5 L2098.4 903.2 L2099.6 909.7 L2100.7 901.8 L2101.8 910.0 L2102.9 915.4 L2104.0 910.3 L2105.1 911.3 L2106.3 904.3 L2107.4 911.2 L2108.5 905.7 L2109.6 910.7 L2110.7 906.3 L2111.8 915.4 L2113.0 913.9 L2114.1 913.0 L2115.2 915.4 L2116.3 918.1 L2117.4 911.4 L2118.5 907.6 L2119.6 908.3 L2120.8 920.9 L2121.9 914.0 L2123.0 906.1 L2124.1 906.6 L2125.2 919.1 L2126.3 911.4 L2127.5 922.4 L2128.6 921.5 L2129.7 912.0 L2130.8 912.0 L2131.9 908.7 L2133.0 918.1 L2134.2 906.6 L2135.3 916.7 L2136.4 912.4 L2137.5 922.9 L2138.6 912.8 L2139.7 910.8 L2140.9 918.4 L2142.0 909.7 L2143.1 919.1 L2144.2 913.9 L2145.3 912.5 L2146.4 914.1 L2147.6 914.7 L2148.7 909.4 L2149.8 919.5 L2150.9 916.1 L2152.0 913.3 L2153.1 923.8 L2154.2 918.2 L2155.4 925.9 L2156.5 907.6 L2157.6 924.7 L2158.7 918.3 L2159.8 926.8 L2160.9 918.3 L2162.1 915.4 L2163.2 914.6 L2164.3 920.3 L2165.4 909.7 L2166.5 916.2 L2167.6 912.8 L2168.8 930.9 L2169.9 921.1 L2171.0 916.9 L2172.1 902.4 L2173.2 917.7 L2174.3 914.9 L2175.5 917.9 L2176.6 918.3 L2177.7 914.3 L2178.8 911.3 L2179.9 916.7 L2181.0 917.6 L2182.2 918.1 L2183.3 918.3 L2184.4 920.8 L2185.5 914.1 L2186.6 923.5 L2187.7 916.7 L2188.9 919.9 L2190.0 916.6 L2191.1 920.6 L2192.2 927.9 L2193.3 922.1 L2194.4 920.5 L2195.5 920.5 L2196.7 916.9 L2197.8 913.5 L2198.9 909.0 L2200.0 921.0 L2201.1 923.3 L2202.2 924.4 L2203.4 910.7 L2204.5 916.7 L2205.6 923.5 L2206.7 919.1 L2207.8 925.5 L2208.9 926.8 L2210.1 915.2 L2211.2 926.9 L2212.3 922.0 L2213.4 920.0 L2214.5 924.6 L2215.6 919.6 L2216.8 914.5 L2217.9 928.1 L2219.0 926.7 L2220.1 926.8 L2221.2 925.0 L2222.3 916.7 L2223.5 924.2 L2224.6 933.2 L2225.7 926.6 L2226.8 924.8 L2227.9 926.0 L2229.0 923.6 L2230.2 925.0 L2231.3 924.9 L2232.4 921.2 L2233.5 923.7 L2234.6 924.4 L2235.7 924.9 L2236.8 937.8 L2238.0 922.7 L2239.1 918.0 L2240.2 923.9 L2241.3 915.3 L2242.4 934.2 L2243.5 921.4 L2244.7 923.7 L2245.8 925.7 L2246.9 929.6 L2248.0 921.8 L2249.1 926.8 L2250.2 923.8 L2251.4 924.9 L2252.5 928.3 L2253.6 921.7 L2254.7 933.2 L2255.8 924.8 L2256.9 930.3 L2258.1 922.7 L2259.2 925.8 L2260.3 921.8 L2261.4 930.2 L2262.5 926.1 L2263.6 922.8 L2264.8 920.8 L2265.9 938.4 L2267.0 929.5 L2268.1 931.1 L2269.2 934.1 L2270.3 930.5 L2271.5 935.0 L2272.6 927.8 L2273.7 930.1 L2274.8 937.9 L2275.9 922.6 L2277.0 929.9 L2278.1 925.9 L2279.3 937.6 L2280.4 927.8 L2281.5 930.5 L2282.6 930.2 L2283.7 925.1 L2284.8 928.0 L2286.0 926.4 L2287.1 934.9 L2288.2 926.6 L2289.3 936.3 L2290.4 932.3 L2291.5 935.0 L2292.7 937.9 L2293.8 935.9 L2294.9 933.5 L2296.0 927.8 L2297.1 930.6 L2298.2 932.2 L2299.4 935.8 L2300.5 932.0 L2301.6 930.8"/>
</g>
<text class="t" text-anchor="end" transform="translate(301.0 1134.9) scale(0.8000 1)">0</text>
<text class="t" text-anchor="end" transform="translate(301.0 1005.2) scale(0.8000 1)">1000</text>
<text class="t" text-anchor="end" transform="translate(301.0 875.5) scale(0.8000 1)">2000</text>
<text class="t" text-anchor="end" transform="translate(301.0 745.8) scale(0.8000 1)">3000</text>
<text class="t" text-anchor="end" transform="translate(301.0 616.1) scale(0.8000 1)">4000</text>
<text class="t" text-anchor="end" transform="translate(301.0 486.4) scale(0.8000 1)">5000</text>
<text class="t" text-anchor="end" transform="translate(301.0 356.7) scale(0.8000 1)">6000</text>
<text class="t" text-anchor="end" transform="translate(301.0 227.0) scale(0.8000 1)">7000</text>
<text class="t" text-anchor="end" transform="translate(301.0 97.3) scale(0.8000 1)">8000</text>
<text class="t" text-anchor="middle" transform="translate(358.9 1216.0) scale(0.8000 1)">4</text>
<text class="t" text-anchor="middle" transform="translate(638.0 1216.0) scale(0.8000 1)">9</text>
<text class="t" text-anchor="middle" transform="translate(917.0 1216.0) scale(0.8000 1)">14</text>
<text class="t" text-anchor="middle" transform="translate(1196.1 1216.0) scale(0.8000 1)">19</text>
<text class="t" text-anchor="middle" transform="translate(1475.1 1216.0) scale(0.8000 1)">24</text>
<text class="t" text-anchor="middle" transform="translate(1754.2 1216.0) scale(0.8000 1)">29</text>
<text class="t" text-anchor="middle" transform="translate(2033.2 1216.0) scale(0.8000 1)">34</text>
<text class="t" text-anchor="middle" transform="translate(2312.2 1216.0) scale(0.8000 1)">39</text>
<g class="b" text-anchor="middle" transform="translate(1371.5 1309.0) scale(0.8100 1)" style="font-size:67.50px"><text id="xt" x="-0.74">2 theta (deg)</text><use href="#xt" x="1.48"/></g>
<g class="b" text-anchor="middle" transform="translate(96.0 568.0) rotate(-90) scale(0.8225 1)" style="font-size:66.50px"><text id="yt" x="-0.73">Count frequency</text><use href="#yt" x="1.46"/></g>
<line x1="400.0" y1="830.0" x2="506.5" y2="830.0" stroke="#002060" stroke-width="8.70" stroke-linecap="round"/>
<text class="t" style="font-size:67.80px" transform="translate(518.7 853.0) scale(0.8077 1)">Eudragit E PO + Ibuprofen, T=90<tspan dy="3.5">°</tspan><tspan dy="-3.5" dx="4.0" style="font-size:62.1px">C</tspan></text>
<line x1="400.0" y1="941.8" x2="506.5" y2="941.8" stroke="#860086" stroke-width="8.70" stroke-linecap="round"/>
<text class="t" style="font-size:67.80px" transform="translate(518.7 964.8) scale(0.8077 1)">Eudragit E PO + Ibuprofen, T=120<tspan dy="3.5">°</tspan><tspan dy="-3.5" dx="4.0" style="font-size:62.1px">C</tspan></text>
<line x1="400.0" y1="1053.6" x2="506.5" y2="1053.6" stroke="#555555" stroke-width="8.70" stroke-linecap="round"/>
<text class="t" style="font-size:67.80px" transform="translate(518.7 1076.6) scale(0.8077 1)">Eudragit E PO + Ibuprofen, T=140<tspan dy="3.5">°</tspan><tspan dy="-3.5" dx="4.0" style="font-size:62.1px">C</tspan></text>
</svg></body></html>
